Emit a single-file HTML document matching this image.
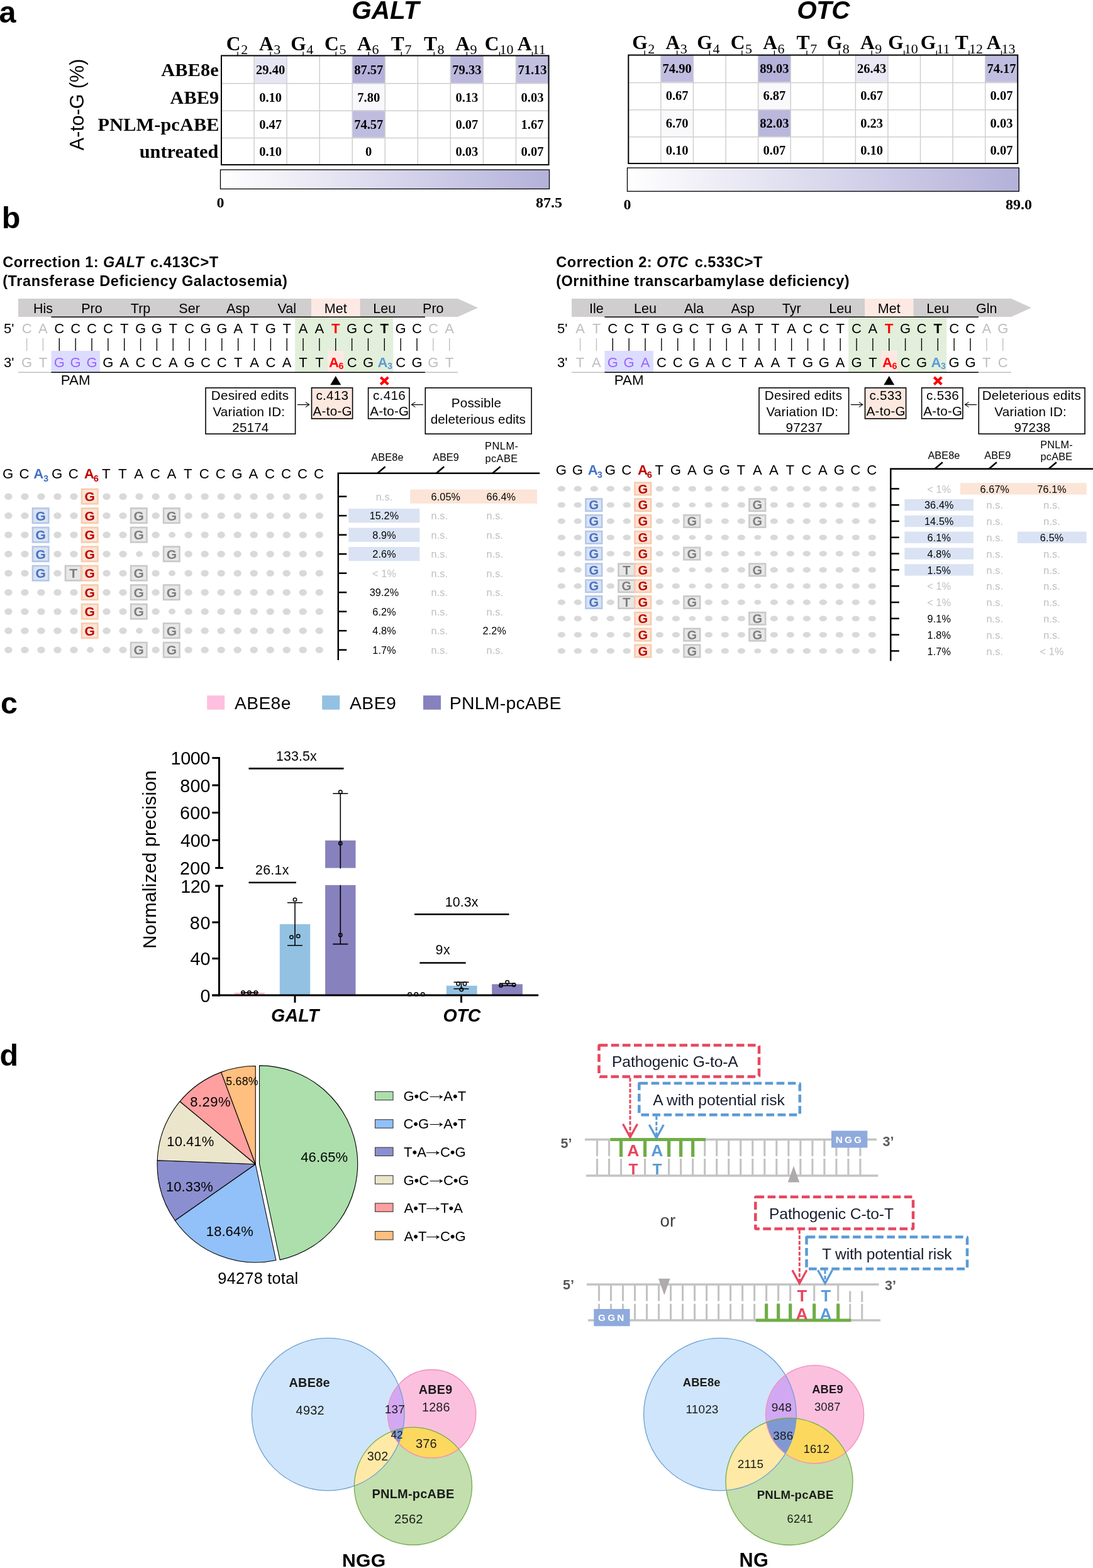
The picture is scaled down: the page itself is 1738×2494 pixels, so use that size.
<!DOCTYPE html>
<html lang="en"><head><meta charset="utf-8"><title>Figure</title>
<style>
html,body{margin:0;padding:0;background:#fff;}
body{width:1738px;height:2494px;overflow:hidden;font-family:"Liberation Sans",Arial,sans-serif;}
svg{display:block;}
</style></head><body>
<svg width="1738" height="2494" viewBox="0 0 1738 2494">
<rect width="1738" height="2494" fill="#ffffff"/>
<text x="-1.61" y="36.20" font-family="Liberation Sans, Arial, sans-serif" font-size="48.5" font-weight="bold" fill="#000">a</text>
<text transform="translate(133.30,239.20) rotate(-90)" font-family="Liberation Sans, Arial, sans-serif" font-size="30.5" letter-spacing="-0.018" fill="#000">A-to-G (%)</text>
<text x="256.35" y="120.60" font-family="Liberation Serif, Times New Roman, serif" font-size="30.2" font-weight="bold" letter-spacing="0.201" fill="#000">ABE8e</text>
<text x="270.45" y="164.80" font-family="Liberation Serif, Times New Roman, serif" font-size="30.2" font-weight="bold" letter-spacing="0.149" fill="#000">ABE9</text>
<text x="155.55" y="207.90" font-family="Liberation Serif, Times New Roman, serif" font-size="30.2" font-weight="bold" letter-spacing="0.183" fill="#000">PNLM-pcABE</text>
<text x="221.75" y="251.40" font-family="Liberation Serif, Times New Roman, serif" font-size="30.2" font-weight="bold" letter-spacing="0.047" fill="#000">untreated</text>
<rect x="404.05" y="88.50" width="52.05" height="43.40" fill="#e6e5f3"/>
<rect x="560.20" y="88.50" width="52.05" height="43.40" fill="#b4b1da"/>
<rect x="716.35" y="88.50" width="52.05" height="43.40" fill="#bbb8dd"/>
<rect x="820.45" y="88.50" width="52.05" height="43.40" fill="#c2c0e1"/>
<rect x="560.20" y="131.90" width="52.05" height="43.40" fill="#f8f8fc"/>
<rect x="560.20" y="175.30" width="52.05" height="43.40" fill="#bfbddf"/>
<rect x="820.45" y="175.30" width="52.05" height="43.40" fill="#fefefe"/>
<line x1="404.05" y1="88.50" x2="404.05" y2="262.10" stroke="#cfcfcf" stroke-width="1.5"/>
<line x1="456.10" y1="88.50" x2="456.10" y2="262.10" stroke="#cfcfcf" stroke-width="1.5"/>
<line x1="508.15" y1="88.50" x2="508.15" y2="262.10" stroke="#cfcfcf" stroke-width="1.5"/>
<line x1="560.20" y1="88.50" x2="560.20" y2="262.10" stroke="#cfcfcf" stroke-width="1.5"/>
<line x1="612.25" y1="88.50" x2="612.25" y2="262.10" stroke="#cfcfcf" stroke-width="1.5"/>
<line x1="664.30" y1="88.50" x2="664.30" y2="262.10" stroke="#cfcfcf" stroke-width="1.5"/>
<line x1="716.35" y1="88.50" x2="716.35" y2="262.10" stroke="#cfcfcf" stroke-width="1.5"/>
<line x1="768.40" y1="88.50" x2="768.40" y2="262.10" stroke="#cfcfcf" stroke-width="1.5"/>
<line x1="820.45" y1="88.50" x2="820.45" y2="262.10" stroke="#cfcfcf" stroke-width="1.5"/>
<line x1="352.00" y1="132.80" x2="872.50" y2="132.80" stroke="#cfcfcf" stroke-width="1.5"/>
<line x1="352.00" y1="176.20" x2="872.50" y2="176.20" stroke="#cfcfcf" stroke-width="1.5"/>
<line x1="352.00" y1="219.60" x2="872.50" y2="219.60" stroke="#cfcfcf" stroke-width="1.5"/>
<rect x="352.00" y="88.50" width="520.50" height="173.60" fill="none" stroke="#000" stroke-width="2"/>
<text x="430.07" y="118.20" font-family="Liberation Serif, Times New Roman, serif" font-size="20.5" text-anchor="middle" font-weight="bold" fill="#000">29.40</text>
<text x="586.23" y="118.20" font-family="Liberation Serif, Times New Roman, serif" font-size="20.5" text-anchor="middle" font-weight="bold" fill="#000">87.57</text>
<text x="742.38" y="118.20" font-family="Liberation Serif, Times New Roman, serif" font-size="20.5" text-anchor="middle" font-weight="bold" fill="#000">79.33</text>
<text x="846.47" y="118.20" font-family="Liberation Serif, Times New Roman, serif" font-size="20.5" text-anchor="middle" font-weight="bold" fill="#000">71.13</text>
<text x="430.07" y="161.60" font-family="Liberation Serif, Times New Roman, serif" font-size="20.5" text-anchor="middle" font-weight="bold" fill="#000">0.10</text>
<text x="586.23" y="161.60" font-family="Liberation Serif, Times New Roman, serif" font-size="20.5" text-anchor="middle" font-weight="bold" fill="#000">7.80</text>
<text x="742.38" y="161.60" font-family="Liberation Serif, Times New Roman, serif" font-size="20.5" text-anchor="middle" font-weight="bold" fill="#000">0.13</text>
<text x="846.47" y="161.60" font-family="Liberation Serif, Times New Roman, serif" font-size="20.5" text-anchor="middle" font-weight="bold" fill="#000">0.03</text>
<text x="430.07" y="205.00" font-family="Liberation Serif, Times New Roman, serif" font-size="20.5" text-anchor="middle" font-weight="bold" fill="#000">0.47</text>
<text x="586.23" y="205.00" font-family="Liberation Serif, Times New Roman, serif" font-size="20.5" text-anchor="middle" font-weight="bold" fill="#000">74.57</text>
<text x="742.38" y="205.00" font-family="Liberation Serif, Times New Roman, serif" font-size="20.5" text-anchor="middle" font-weight="bold" fill="#000">0.07</text>
<text x="846.47" y="205.00" font-family="Liberation Serif, Times New Roman, serif" font-size="20.5" text-anchor="middle" font-weight="bold" fill="#000">1.67</text>
<text x="430.07" y="248.40" font-family="Liberation Serif, Times New Roman, serif" font-size="20.5" text-anchor="middle" font-weight="bold" fill="#000">0.10</text>
<text x="586.23" y="248.40" font-family="Liberation Serif, Times New Roman, serif" font-size="20.5" text-anchor="middle" font-weight="bold" fill="#000">0</text>
<text x="742.38" y="248.40" font-family="Liberation Serif, Times New Roman, serif" font-size="20.5" text-anchor="middle" font-weight="bold" fill="#000">0.03</text>
<text x="846.47" y="248.40" font-family="Liberation Serif, Times New Roman, serif" font-size="20.5" text-anchor="middle" font-weight="bold" fill="#000">0.07</text>
<line x1="378.02" y1="88.50" x2="378.02" y2="82.50" stroke="#000" stroke-width="1.3"/>
<text x="382.62" y="79.50" font-family="Liberation Serif, Times New Roman, serif" font-size="31.5" text-anchor="end" font-weight="bold" fill="#000">C</text>
<text x="383.22" y="86.30" font-family="Liberation Serif, Times New Roman, serif" font-size="22" fill="#000">2</text>
<line x1="430.07" y1="88.50" x2="430.07" y2="82.50" stroke="#000" stroke-width="1.3"/>
<text x="434.68" y="79.50" font-family="Liberation Serif, Times New Roman, serif" font-size="31.5" text-anchor="end" font-weight="bold" fill="#000">A</text>
<text x="435.27" y="86.30" font-family="Liberation Serif, Times New Roman, serif" font-size="22" fill="#000">3</text>
<line x1="482.12" y1="88.50" x2="482.12" y2="82.50" stroke="#000" stroke-width="1.3"/>
<text x="486.73" y="79.50" font-family="Liberation Serif, Times New Roman, serif" font-size="31.5" text-anchor="end" font-weight="bold" fill="#000">G</text>
<text x="487.32" y="86.30" font-family="Liberation Serif, Times New Roman, serif" font-size="22" fill="#000">4</text>
<line x1="534.17" y1="88.50" x2="534.17" y2="82.50" stroke="#000" stroke-width="1.3"/>
<text x="538.77" y="79.50" font-family="Liberation Serif, Times New Roman, serif" font-size="31.5" text-anchor="end" font-weight="bold" fill="#000">C</text>
<text x="539.38" y="86.30" font-family="Liberation Serif, Times New Roman, serif" font-size="22" fill="#000">5</text>
<line x1="586.23" y1="88.50" x2="586.23" y2="82.50" stroke="#000" stroke-width="1.3"/>
<text x="590.83" y="79.50" font-family="Liberation Serif, Times New Roman, serif" font-size="31.5" text-anchor="end" font-weight="bold" fill="#000">A</text>
<text x="591.43" y="86.30" font-family="Liberation Serif, Times New Roman, serif" font-size="22" fill="#000">6</text>
<line x1="638.27" y1="88.50" x2="638.27" y2="82.50" stroke="#000" stroke-width="1.3"/>
<text x="642.88" y="79.50" font-family="Liberation Serif, Times New Roman, serif" font-size="31.5" text-anchor="end" font-weight="bold" fill="#000">T</text>
<text x="643.48" y="86.30" font-family="Liberation Serif, Times New Roman, serif" font-size="22" fill="#000">7</text>
<line x1="690.33" y1="88.50" x2="690.33" y2="82.50" stroke="#000" stroke-width="1.3"/>
<text x="694.93" y="79.50" font-family="Liberation Serif, Times New Roman, serif" font-size="31.5" text-anchor="end" font-weight="bold" fill="#000">T</text>
<text x="695.53" y="86.30" font-family="Liberation Serif, Times New Roman, serif" font-size="22" fill="#000">8</text>
<line x1="742.38" y1="88.50" x2="742.38" y2="82.50" stroke="#000" stroke-width="1.3"/>
<text x="746.98" y="79.50" font-family="Liberation Serif, Times New Roman, serif" font-size="31.5" text-anchor="end" font-weight="bold" fill="#000">A</text>
<text x="747.58" y="86.30" font-family="Liberation Serif, Times New Roman, serif" font-size="22" fill="#000">9</text>
<line x1="794.42" y1="88.50" x2="794.42" y2="82.50" stroke="#000" stroke-width="1.3"/>
<text x="793.42" y="79.50" font-family="Liberation Serif, Times New Roman, serif" font-size="31.5" text-anchor="end" font-weight="bold" fill="#000">C</text>
<text x="794.42" y="86.30" font-family="Liberation Serif, Times New Roman, serif" font-size="22" fill="#000">10</text>
<line x1="846.47" y1="88.50" x2="846.47" y2="82.50" stroke="#000" stroke-width="1.3"/>
<text x="845.47" y="79.50" font-family="Liberation Serif, Times New Roman, serif" font-size="31.5" text-anchor="end" font-weight="bold" fill="#000">A</text>
<text x="846.47" y="86.30" font-family="Liberation Serif, Times New Roman, serif" font-size="22" fill="#000">11</text>
<defs><linearGradient id="gGALT" x1="0" x2="1" y1="0" y2="0"><stop offset="0" stop-color="#ffffff"/><stop offset="1" stop-color="#b4b1da"/></linearGradient></defs>
<rect x="350.5" y="270" width="523.0" height="30.5" fill="url(#gGALT)" stroke="#000" stroke-width="1.3"/>
<text x="350.50" y="330.00" font-family="Liberation Serif, Times New Roman, serif" font-size="24" text-anchor="middle" font-weight="bold" fill="#000">0</text>
<text x="873.00" y="330.00" font-family="Liberation Serif, Times New Roman, serif" font-size="24" text-anchor="middle" font-weight="bold" fill="#000">87.5</text>
<text x="559.18" y="30.00" font-family="Liberation Sans, Arial, sans-serif" font-size="40.5" font-weight="bold" font-style="italic" letter-spacing="0.054" fill="#000">GALT</text>
<rect x="1050.88" y="87.60" width="51.58" height="43.10" fill="#c0bde0"/>
<rect x="1205.62" y="87.60" width="51.58" height="43.10" fill="#b4b1da"/>
<rect x="1360.36" y="87.60" width="51.58" height="43.10" fill="#e9e8f4"/>
<rect x="1566.68" y="87.60" width="51.58" height="43.10" fill="#c0bee0"/>
<rect x="1050.88" y="130.70" width="51.58" height="43.10" fill="#fefeff"/>
<rect x="1205.62" y="130.70" width="51.58" height="43.10" fill="#f9f9fc"/>
<rect x="1360.36" y="130.70" width="51.58" height="43.10" fill="#fefeff"/>
<rect x="1050.88" y="173.80" width="51.58" height="43.10" fill="#f9f9fc"/>
<rect x="1205.62" y="173.80" width="51.58" height="43.10" fill="#bab7dd"/>
<line x1="1050.88" y1="87.60" x2="1050.88" y2="260.00" stroke="#cfcfcf" stroke-width="1.5"/>
<line x1="1102.46" y1="87.60" x2="1102.46" y2="260.00" stroke="#cfcfcf" stroke-width="1.5"/>
<line x1="1154.04" y1="87.60" x2="1154.04" y2="260.00" stroke="#cfcfcf" stroke-width="1.5"/>
<line x1="1205.62" y1="87.60" x2="1205.62" y2="260.00" stroke="#cfcfcf" stroke-width="1.5"/>
<line x1="1257.20" y1="87.60" x2="1257.20" y2="260.00" stroke="#cfcfcf" stroke-width="1.5"/>
<line x1="1308.78" y1="87.60" x2="1308.78" y2="260.00" stroke="#cfcfcf" stroke-width="1.5"/>
<line x1="1360.36" y1="87.60" x2="1360.36" y2="260.00" stroke="#cfcfcf" stroke-width="1.5"/>
<line x1="1411.94" y1="87.60" x2="1411.94" y2="260.00" stroke="#cfcfcf" stroke-width="1.5"/>
<line x1="1463.52" y1="87.60" x2="1463.52" y2="260.00" stroke="#cfcfcf" stroke-width="1.5"/>
<line x1="1515.10" y1="87.60" x2="1515.10" y2="260.00" stroke="#cfcfcf" stroke-width="1.5"/>
<line x1="1566.68" y1="87.60" x2="1566.68" y2="260.00" stroke="#cfcfcf" stroke-width="1.5"/>
<line x1="999.30" y1="131.60" x2="1618.26" y2="131.60" stroke="#cfcfcf" stroke-width="1.5"/>
<line x1="999.30" y1="174.70" x2="1618.26" y2="174.70" stroke="#cfcfcf" stroke-width="1.5"/>
<line x1="999.30" y1="217.80" x2="1618.26" y2="217.80" stroke="#cfcfcf" stroke-width="1.5"/>
<rect x="999.30" y="87.60" width="618.96" height="172.40" fill="none" stroke="#000" stroke-width="2"/>
<text x="1076.67" y="116.35" font-family="Liberation Serif, Times New Roman, serif" font-size="20.5" text-anchor="middle" font-weight="bold" fill="#000">74.90</text>
<text x="1231.41" y="116.35" font-family="Liberation Serif, Times New Roman, serif" font-size="20.5" text-anchor="middle" font-weight="bold" fill="#000">89.03</text>
<text x="1386.15" y="116.35" font-family="Liberation Serif, Times New Roman, serif" font-size="20.5" text-anchor="middle" font-weight="bold" fill="#000">26.43</text>
<text x="1592.47" y="116.35" font-family="Liberation Serif, Times New Roman, serif" font-size="20.5" text-anchor="middle" font-weight="bold" fill="#000">74.17</text>
<text x="1076.67" y="159.45" font-family="Liberation Serif, Times New Roman, serif" font-size="20.5" text-anchor="middle" font-weight="bold" fill="#000">0.67</text>
<text x="1231.41" y="159.45" font-family="Liberation Serif, Times New Roman, serif" font-size="20.5" text-anchor="middle" font-weight="bold" fill="#000">6.87</text>
<text x="1386.15" y="159.45" font-family="Liberation Serif, Times New Roman, serif" font-size="20.5" text-anchor="middle" font-weight="bold" fill="#000">0.67</text>
<text x="1592.47" y="159.45" font-family="Liberation Serif, Times New Roman, serif" font-size="20.5" text-anchor="middle" font-weight="bold" fill="#000">0.07</text>
<text x="1076.67" y="202.55" font-family="Liberation Serif, Times New Roman, serif" font-size="20.5" text-anchor="middle" font-weight="bold" fill="#000">6.70</text>
<text x="1231.41" y="202.55" font-family="Liberation Serif, Times New Roman, serif" font-size="20.5" text-anchor="middle" font-weight="bold" fill="#000">82.03</text>
<text x="1386.15" y="202.55" font-family="Liberation Serif, Times New Roman, serif" font-size="20.5" text-anchor="middle" font-weight="bold" fill="#000">0.23</text>
<text x="1592.47" y="202.55" font-family="Liberation Serif, Times New Roman, serif" font-size="20.5" text-anchor="middle" font-weight="bold" fill="#000">0.03</text>
<text x="1076.67" y="245.65" font-family="Liberation Serif, Times New Roman, serif" font-size="20.5" text-anchor="middle" font-weight="bold" fill="#000">0.10</text>
<text x="1231.41" y="245.65" font-family="Liberation Serif, Times New Roman, serif" font-size="20.5" text-anchor="middle" font-weight="bold" fill="#000">0.07</text>
<text x="1386.15" y="245.65" font-family="Liberation Serif, Times New Roman, serif" font-size="20.5" text-anchor="middle" font-weight="bold" fill="#000">0.10</text>
<text x="1592.47" y="245.65" font-family="Liberation Serif, Times New Roman, serif" font-size="20.5" text-anchor="middle" font-weight="bold" fill="#000">0.07</text>
<line x1="1025.09" y1="87.60" x2="1025.09" y2="80.50" stroke="#000" stroke-width="1.3"/>
<text x="1029.69" y="77.50" font-family="Liberation Serif, Times New Roman, serif" font-size="31.5" text-anchor="end" font-weight="bold" fill="#000">G</text>
<text x="1030.29" y="85.00" font-family="Liberation Serif, Times New Roman, serif" font-size="22" fill="#000">2</text>
<line x1="1076.67" y1="87.60" x2="1076.67" y2="80.50" stroke="#000" stroke-width="1.3"/>
<text x="1081.27" y="77.50" font-family="Liberation Serif, Times New Roman, serif" font-size="31.5" text-anchor="end" font-weight="bold" fill="#000">A</text>
<text x="1081.87" y="85.00" font-family="Liberation Serif, Times New Roman, serif" font-size="22" fill="#000">3</text>
<line x1="1128.25" y1="87.60" x2="1128.25" y2="80.50" stroke="#000" stroke-width="1.3"/>
<text x="1132.85" y="77.50" font-family="Liberation Serif, Times New Roman, serif" font-size="31.5" text-anchor="end" font-weight="bold" fill="#000">G</text>
<text x="1133.45" y="85.00" font-family="Liberation Serif, Times New Roman, serif" font-size="22" fill="#000">4</text>
<line x1="1179.83" y1="87.60" x2="1179.83" y2="80.50" stroke="#000" stroke-width="1.3"/>
<text x="1184.43" y="77.50" font-family="Liberation Serif, Times New Roman, serif" font-size="31.5" text-anchor="end" font-weight="bold" fill="#000">C</text>
<text x="1185.03" y="85.00" font-family="Liberation Serif, Times New Roman, serif" font-size="22" fill="#000">5</text>
<line x1="1231.41" y1="87.60" x2="1231.41" y2="80.50" stroke="#000" stroke-width="1.3"/>
<text x="1236.01" y="77.50" font-family="Liberation Serif, Times New Roman, serif" font-size="31.5" text-anchor="end" font-weight="bold" fill="#000">A</text>
<text x="1236.61" y="85.00" font-family="Liberation Serif, Times New Roman, serif" font-size="22" fill="#000">6</text>
<line x1="1282.99" y1="87.60" x2="1282.99" y2="80.50" stroke="#000" stroke-width="1.3"/>
<text x="1287.59" y="77.50" font-family="Liberation Serif, Times New Roman, serif" font-size="31.5" text-anchor="end" font-weight="bold" fill="#000">T</text>
<text x="1288.19" y="85.00" font-family="Liberation Serif, Times New Roman, serif" font-size="22" fill="#000">7</text>
<line x1="1334.57" y1="87.60" x2="1334.57" y2="80.50" stroke="#000" stroke-width="1.3"/>
<text x="1339.17" y="77.50" font-family="Liberation Serif, Times New Roman, serif" font-size="31.5" text-anchor="end" font-weight="bold" fill="#000">G</text>
<text x="1339.77" y="85.00" font-family="Liberation Serif, Times New Roman, serif" font-size="22" fill="#000">8</text>
<line x1="1386.15" y1="87.60" x2="1386.15" y2="80.50" stroke="#000" stroke-width="1.3"/>
<text x="1390.75" y="77.50" font-family="Liberation Serif, Times New Roman, serif" font-size="31.5" text-anchor="end" font-weight="bold" fill="#000">A</text>
<text x="1391.35" y="85.00" font-family="Liberation Serif, Times New Roman, serif" font-size="22" fill="#000">9</text>
<line x1="1437.73" y1="87.60" x2="1437.73" y2="80.50" stroke="#000" stroke-width="1.3"/>
<text x="1436.73" y="77.50" font-family="Liberation Serif, Times New Roman, serif" font-size="31.5" text-anchor="end" font-weight="bold" fill="#000">G</text>
<text x="1437.73" y="85.00" font-family="Liberation Serif, Times New Roman, serif" font-size="22" fill="#000">10</text>
<line x1="1489.31" y1="87.60" x2="1489.31" y2="80.50" stroke="#000" stroke-width="1.3"/>
<text x="1488.31" y="77.50" font-family="Liberation Serif, Times New Roman, serif" font-size="31.5" text-anchor="end" font-weight="bold" fill="#000">G</text>
<text x="1489.31" y="85.00" font-family="Liberation Serif, Times New Roman, serif" font-size="22" fill="#000">11</text>
<line x1="1540.89" y1="87.60" x2="1540.89" y2="80.50" stroke="#000" stroke-width="1.3"/>
<text x="1539.89" y="77.50" font-family="Liberation Serif, Times New Roman, serif" font-size="31.5" text-anchor="end" font-weight="bold" fill="#000">T</text>
<text x="1540.89" y="85.00" font-family="Liberation Serif, Times New Roman, serif" font-size="22" fill="#000">12</text>
<line x1="1592.47" y1="87.60" x2="1592.47" y2="80.50" stroke="#000" stroke-width="1.3"/>
<text x="1591.47" y="77.50" font-family="Liberation Serif, Times New Roman, serif" font-size="31.5" text-anchor="end" font-weight="bold" fill="#000">A</text>
<text x="1592.47" y="85.00" font-family="Liberation Serif, Times New Roman, serif" font-size="22" fill="#000">13</text>
<defs><linearGradient id="gOTC" x1="0" x2="1" y1="0" y2="0"><stop offset="0" stop-color="#ffffff"/><stop offset="1" stop-color="#b4b1da"/></linearGradient></defs>
<rect x="997.5" y="267" width="622.8" height="37.30000000000001" fill="url(#gOTC)" stroke="#000" stroke-width="1.3"/>
<text x="997.50" y="333.00" font-family="Liberation Serif, Times New Roman, serif" font-size="24" text-anchor="middle" font-weight="bold" fill="#000">0</text>
<text x="1620.00" y="333.00" font-family="Liberation Serif, Times New Roman, serif" font-size="24" text-anchor="middle" font-weight="bold" fill="#000">89.0</text>
<text x="1267.18" y="29.50" font-family="Liberation Sans, Arial, sans-serif" font-size="40.5" font-weight="bold" font-style="italic" letter-spacing="-0.620" fill="#000">OTC</text>
<text x="2.75" y="363.10" font-family="Liberation Sans, Arial, sans-serif" font-size="48.5" font-weight="bold" fill="#000">b</text>
<text x="4.31" y="425.00" font-family="Liberation Sans, Arial, sans-serif" font-size="23.5" font-weight="bold" letter-spacing="0.511" fill="#000">Correction 1:</text>
<text x="163.94" y="425.00" font-family="Liberation Sans, Arial, sans-serif" font-size="23.5" font-weight="bold" font-style="italic" letter-spacing="0.779" fill="#000">GALT</text>
<text x="238.93" y="425.00" font-family="Liberation Sans, Arial, sans-serif" font-size="23.5" font-weight="bold" letter-spacing="0.617" fill="#000">c.413C&gt;T</text>
<text x="4.19" y="455.30" font-family="Liberation Sans, Arial, sans-serif" font-size="23.5" font-weight="bold" letter-spacing="0.599" fill="#000">(Transferase Deficiency Galactosemia)</text>
<polygon points="29,475 728,475 760,489.5 728,504 29,504" fill="#d0cece"/>
<rect x="494.98" y="475.00" width="77.55" height="29.50" fill="#fde9e3"/>
<text x="68.45" y="497.70" font-family="Liberation Sans, Arial, sans-serif" font-size="21.5" text-anchor="middle" fill="#000">His</text>
<text x="146.00" y="497.70" font-family="Liberation Sans, Arial, sans-serif" font-size="21.5" text-anchor="middle" fill="#000">Pro</text>
<text x="223.55" y="497.70" font-family="Liberation Sans, Arial, sans-serif" font-size="21.5" text-anchor="middle" fill="#000">Trp</text>
<text x="301.10" y="497.70" font-family="Liberation Sans, Arial, sans-serif" font-size="21.5" text-anchor="middle" fill="#000">Ser</text>
<text x="378.65" y="497.70" font-family="Liberation Sans, Arial, sans-serif" font-size="21.5" text-anchor="middle" fill="#000">Asp</text>
<text x="456.20" y="497.70" font-family="Liberation Sans, Arial, sans-serif" font-size="21.5" text-anchor="middle" fill="#000">Val</text>
<text x="533.75" y="497.70" font-family="Liberation Sans, Arial, sans-serif" font-size="21.5" text-anchor="middle" fill="#000">Met</text>
<text x="611.30" y="497.70" font-family="Liberation Sans, Arial, sans-serif" font-size="21.5" text-anchor="middle" fill="#000">Leu</text>
<text x="688.85" y="497.70" font-family="Liberation Sans, Arial, sans-serif" font-size="21.5" text-anchor="middle" fill="#000">Pro</text>
<rect x="469.13" y="504.50" width="156.10" height="88.00" fill="#e2efda"/>
<rect x="520.83" y="558.00" width="25.85" height="34.50" fill="#fde9e3"/>
<rect x="81.38" y="558.00" width="77.55" height="34.50" fill="#dcdcff"/>
<line x1="81.38" y1="504.30" x2="675.93" y2="504.30" stroke="#000" stroke-width="1.6"/>
<line x1="29.00" y1="592.30" x2="81.38" y2="592.30" stroke="#bfbfbf" stroke-width="1.6"/>
<line x1="675.93" y1="592.30" x2="728.00" y2="592.30" stroke="#bfbfbf" stroke-width="1.6"/>
<line x1="81.38" y1="592.30" x2="675.93" y2="592.30" stroke="#000" stroke-width="1.6"/>
<text x="6.00" y="530.00" font-family="Liberation Sans, Arial, sans-serif" font-size="22" fill="#000">5'</text>
<text x="6.00" y="584.00" font-family="Liberation Sans, Arial, sans-serif" font-size="22" fill="#000">3'</text>
<text x="42.60" y="530.00" font-family="Liberation Sans, Arial, sans-serif" font-size="22" text-anchor="middle" fill="#bfbfbf">C</text>
<line x1="42.60" y1="538.00" x2="42.60" y2="558.00" stroke="#bfbfbf" stroke-width="1.4"/>
<text x="68.45" y="530.00" font-family="Liberation Sans, Arial, sans-serif" font-size="22" text-anchor="middle" fill="#bfbfbf">A</text>
<line x1="68.45" y1="538.00" x2="68.45" y2="558.00" stroke="#bfbfbf" stroke-width="1.4"/>
<text x="94.30" y="530.00" font-family="Liberation Sans, Arial, sans-serif" font-size="22" text-anchor="middle" fill="#000">C</text>
<line x1="94.30" y1="538.00" x2="94.30" y2="558.00" stroke="#000" stroke-width="1.4"/>
<text x="120.15" y="530.00" font-family="Liberation Sans, Arial, sans-serif" font-size="22" text-anchor="middle" fill="#000">C</text>
<line x1="120.15" y1="538.00" x2="120.15" y2="558.00" stroke="#000" stroke-width="1.4"/>
<text x="146.00" y="530.00" font-family="Liberation Sans, Arial, sans-serif" font-size="22" text-anchor="middle" fill="#000">C</text>
<line x1="146.00" y1="538.00" x2="146.00" y2="558.00" stroke="#000" stroke-width="1.4"/>
<text x="171.85" y="530.00" font-family="Liberation Sans, Arial, sans-serif" font-size="22" text-anchor="middle" fill="#000">C</text>
<line x1="171.85" y1="538.00" x2="171.85" y2="558.00" stroke="#000" stroke-width="1.4"/>
<text x="197.70" y="530.00" font-family="Liberation Sans, Arial, sans-serif" font-size="22" text-anchor="middle" fill="#000">T</text>
<line x1="197.70" y1="538.00" x2="197.70" y2="558.00" stroke="#000" stroke-width="1.4"/>
<text x="223.55" y="530.00" font-family="Liberation Sans, Arial, sans-serif" font-size="22" text-anchor="middle" fill="#000">G</text>
<line x1="223.55" y1="538.00" x2="223.55" y2="558.00" stroke="#000" stroke-width="1.4"/>
<text x="249.40" y="530.00" font-family="Liberation Sans, Arial, sans-serif" font-size="22" text-anchor="middle" fill="#000">G</text>
<line x1="249.40" y1="538.00" x2="249.40" y2="558.00" stroke="#000" stroke-width="1.4"/>
<text x="275.25" y="530.00" font-family="Liberation Sans, Arial, sans-serif" font-size="22" text-anchor="middle" fill="#000">T</text>
<line x1="275.25" y1="538.00" x2="275.25" y2="558.00" stroke="#000" stroke-width="1.4"/>
<text x="301.10" y="530.00" font-family="Liberation Sans, Arial, sans-serif" font-size="22" text-anchor="middle" fill="#000">C</text>
<line x1="301.10" y1="538.00" x2="301.10" y2="558.00" stroke="#000" stroke-width="1.4"/>
<text x="326.95" y="530.00" font-family="Liberation Sans, Arial, sans-serif" font-size="22" text-anchor="middle" fill="#000">G</text>
<line x1="326.95" y1="538.00" x2="326.95" y2="558.00" stroke="#000" stroke-width="1.4"/>
<text x="352.80" y="530.00" font-family="Liberation Sans, Arial, sans-serif" font-size="22" text-anchor="middle" fill="#000">G</text>
<line x1="352.80" y1="538.00" x2="352.80" y2="558.00" stroke="#000" stroke-width="1.4"/>
<text x="378.65" y="530.00" font-family="Liberation Sans, Arial, sans-serif" font-size="22" text-anchor="middle" fill="#000">A</text>
<line x1="378.65" y1="538.00" x2="378.65" y2="558.00" stroke="#000" stroke-width="1.4"/>
<text x="404.50" y="530.00" font-family="Liberation Sans, Arial, sans-serif" font-size="22" text-anchor="middle" fill="#000">T</text>
<line x1="404.50" y1="538.00" x2="404.50" y2="558.00" stroke="#000" stroke-width="1.4"/>
<text x="430.35" y="530.00" font-family="Liberation Sans, Arial, sans-serif" font-size="22" text-anchor="middle" fill="#000">G</text>
<line x1="430.35" y1="538.00" x2="430.35" y2="558.00" stroke="#000" stroke-width="1.4"/>
<text x="456.20" y="530.00" font-family="Liberation Sans, Arial, sans-serif" font-size="22" text-anchor="middle" fill="#000">T</text>
<line x1="456.20" y1="538.00" x2="456.20" y2="558.00" stroke="#000" stroke-width="1.4"/>
<text x="482.05" y="530.00" font-family="Liberation Sans, Arial, sans-serif" font-size="22" text-anchor="middle" fill="#000">A</text>
<line x1="482.05" y1="538.00" x2="482.05" y2="558.00" stroke="#000" stroke-width="1.4"/>
<text x="507.90" y="530.00" font-family="Liberation Sans, Arial, sans-serif" font-size="22" text-anchor="middle" fill="#000">A</text>
<line x1="507.90" y1="538.00" x2="507.90" y2="558.00" stroke="#000" stroke-width="1.4"/>
<text x="533.75" y="530.00" font-family="Liberation Sans, Arial, sans-serif" font-size="22" text-anchor="middle" font-weight="bold" fill="#ff0000">T</text>
<line x1="533.75" y1="538.00" x2="533.75" y2="558.00" stroke="#000" stroke-width="1.4"/>
<text x="559.60" y="530.00" font-family="Liberation Sans, Arial, sans-serif" font-size="22" text-anchor="middle" fill="#000">G</text>
<line x1="559.60" y1="538.00" x2="559.60" y2="558.00" stroke="#000" stroke-width="1.4"/>
<text x="585.45" y="530.00" font-family="Liberation Sans, Arial, sans-serif" font-size="22" text-anchor="middle" fill="#000">C</text>
<line x1="585.45" y1="538.00" x2="585.45" y2="558.00" stroke="#000" stroke-width="1.4"/>
<text x="611.30" y="530.00" font-family="Liberation Sans, Arial, sans-serif" font-size="22" text-anchor="middle" font-weight="bold" fill="#000">T</text>
<line x1="611.30" y1="538.00" x2="611.30" y2="558.00" stroke="#000" stroke-width="1.4"/>
<text x="637.15" y="530.00" font-family="Liberation Sans, Arial, sans-serif" font-size="22" text-anchor="middle" fill="#000">G</text>
<line x1="637.15" y1="538.00" x2="637.15" y2="558.00" stroke="#000" stroke-width="1.4"/>
<text x="663.00" y="530.00" font-family="Liberation Sans, Arial, sans-serif" font-size="22" text-anchor="middle" fill="#000">C</text>
<line x1="663.00" y1="538.00" x2="663.00" y2="558.00" stroke="#000" stroke-width="1.4"/>
<text x="688.85" y="530.00" font-family="Liberation Sans, Arial, sans-serif" font-size="22" text-anchor="middle" fill="#bfbfbf">C</text>
<line x1="688.85" y1="538.00" x2="688.85" y2="558.00" stroke="#bfbfbf" stroke-width="1.4"/>
<text x="714.70" y="530.00" font-family="Liberation Sans, Arial, sans-serif" font-size="22" text-anchor="middle" fill="#bfbfbf">A</text>
<line x1="714.70" y1="538.00" x2="714.70" y2="558.00" stroke="#bfbfbf" stroke-width="1.4"/>
<text x="42.60" y="584.00" font-family="Liberation Sans, Arial, sans-serif" font-size="22" text-anchor="middle" fill="#bfbfbf">G</text>
<text x="68.45" y="584.00" font-family="Liberation Sans, Arial, sans-serif" font-size="22" text-anchor="middle" fill="#bfbfbf">T</text>
<text x="94.30" y="584.00" font-family="Liberation Sans, Arial, sans-serif" font-size="22" text-anchor="middle" fill="#9966ff">G</text>
<text x="120.15" y="584.00" font-family="Liberation Sans, Arial, sans-serif" font-size="22" text-anchor="middle" fill="#9966ff">G</text>
<text x="146.00" y="584.00" font-family="Liberation Sans, Arial, sans-serif" font-size="22" text-anchor="middle" fill="#9966ff">G</text>
<text x="171.85" y="584.00" font-family="Liberation Sans, Arial, sans-serif" font-size="22" text-anchor="middle" fill="#000">G</text>
<text x="197.70" y="584.00" font-family="Liberation Sans, Arial, sans-serif" font-size="22" text-anchor="middle" fill="#000">A</text>
<text x="223.55" y="584.00" font-family="Liberation Sans, Arial, sans-serif" font-size="22" text-anchor="middle" fill="#000">C</text>
<text x="249.40" y="584.00" font-family="Liberation Sans, Arial, sans-serif" font-size="22" text-anchor="middle" fill="#000">C</text>
<text x="275.25" y="584.00" font-family="Liberation Sans, Arial, sans-serif" font-size="22" text-anchor="middle" fill="#000">A</text>
<text x="301.10" y="584.00" font-family="Liberation Sans, Arial, sans-serif" font-size="22" text-anchor="middle" fill="#000">G</text>
<text x="326.95" y="584.00" font-family="Liberation Sans, Arial, sans-serif" font-size="22" text-anchor="middle" fill="#000">C</text>
<text x="352.80" y="584.00" font-family="Liberation Sans, Arial, sans-serif" font-size="22" text-anchor="middle" fill="#000">C</text>
<text x="378.65" y="584.00" font-family="Liberation Sans, Arial, sans-serif" font-size="22" text-anchor="middle" fill="#000">T</text>
<text x="404.50" y="584.00" font-family="Liberation Sans, Arial, sans-serif" font-size="22" text-anchor="middle" fill="#000">A</text>
<text x="430.35" y="584.00" font-family="Liberation Sans, Arial, sans-serif" font-size="22" text-anchor="middle" fill="#000">C</text>
<text x="456.20" y="584.00" font-family="Liberation Sans, Arial, sans-serif" font-size="22" text-anchor="middle" fill="#000">A</text>
<text x="482.05" y="584.00" font-family="Liberation Sans, Arial, sans-serif" font-size="22" text-anchor="middle" fill="#000">T</text>
<text x="507.90" y="584.00" font-family="Liberation Sans, Arial, sans-serif" font-size="22" text-anchor="middle" fill="#000">T</text>
<text x="530.95" y="584" text-anchor="middle" font-family="Liberation Sans, Arial, sans-serif" font-size="22.2" font-weight="bold" fill="#ff0000">A</text>
<text x="542.45" y="587.2" text-anchor="middle" font-family="Liberation Sans, Arial, sans-serif" font-size="14.3" font-weight="bold" fill="#ff0000">6</text>
<text x="559.60" y="584.00" font-family="Liberation Sans, Arial, sans-serif" font-size="22" text-anchor="middle" fill="#000">C</text>
<text x="585.45" y="584.00" font-family="Liberation Sans, Arial, sans-serif" font-size="22" text-anchor="middle" fill="#000">G</text>
<text x="608.50" y="584" text-anchor="middle" font-family="Liberation Sans, Arial, sans-serif" font-size="22.2" font-weight="bold" fill="#5b9bd5">A</text>
<text x="620.00" y="587.2" text-anchor="middle" font-family="Liberation Sans, Arial, sans-serif" font-size="14.3" font-weight="bold" fill="#5b9bd5">3</text>
<text x="637.15" y="584.00" font-family="Liberation Sans, Arial, sans-serif" font-size="22" text-anchor="middle" fill="#000">C</text>
<text x="663.00" y="584.00" font-family="Liberation Sans, Arial, sans-serif" font-size="22" text-anchor="middle" fill="#000">G</text>
<text x="688.85" y="584.00" font-family="Liberation Sans, Arial, sans-serif" font-size="22" text-anchor="middle" fill="#bfbfbf">G</text>
<text x="714.70" y="584.00" font-family="Liberation Sans, Arial, sans-serif" font-size="22" text-anchor="middle" fill="#bfbfbf">T</text>
<text x="120.15" y="612.40" font-family="Liberation Sans, Arial, sans-serif" font-size="22.3" text-anchor="middle" fill="#000">PAM</text>
<polygon points="525.25,612.3 542.25,612.3 533.75,598" fill="#000"/>
<path d="M605.30,600 L617.30,611.5 M617.30,600 L605.30,611.5" stroke="#ff0000" stroke-width="4.2" fill="none"/>
<text x="884.31" y="425.00" font-family="Liberation Sans, Arial, sans-serif" font-size="23.5" font-weight="bold" letter-spacing="0.511" fill="#000">Correction 2:</text>
<text x="1043.94" y="425.00" font-family="Liberation Sans, Arial, sans-serif" font-size="23.5" font-weight="bold" font-style="italic" letter-spacing="0.310" fill="#000">OTC</text>
<text x="1104.68" y="425.00" font-family="Liberation Sans, Arial, sans-serif" font-size="23.5" font-weight="bold" letter-spacing="0.539" fill="#000">c.533C&gt;T</text>
<text x="884.19" y="455.30" font-family="Liberation Sans, Arial, sans-serif" font-size="23.5" font-weight="bold" letter-spacing="0.486" fill="#000">(Ornithine transcarbamylase deficiency)</text>
<polygon points="909,475 1608,475 1640,489.5 1608,504 909,504" fill="#d0cece"/>
<rect x="1374.98" y="475.00" width="77.55" height="29.50" fill="#fde9e3"/>
<text x="948.45" y="497.70" font-family="Liberation Sans, Arial, sans-serif" font-size="21.5" text-anchor="middle" fill="#000">Ile</text>
<text x="1026.00" y="497.70" font-family="Liberation Sans, Arial, sans-serif" font-size="21.5" text-anchor="middle" fill="#000">Leu</text>
<text x="1103.55" y="497.70" font-family="Liberation Sans, Arial, sans-serif" font-size="21.5" text-anchor="middle" fill="#000">Ala</text>
<text x="1181.10" y="497.70" font-family="Liberation Sans, Arial, sans-serif" font-size="21.5" text-anchor="middle" fill="#000">Asp</text>
<text x="1258.65" y="497.70" font-family="Liberation Sans, Arial, sans-serif" font-size="21.5" text-anchor="middle" fill="#000">Tyr</text>
<text x="1336.20" y="497.70" font-family="Liberation Sans, Arial, sans-serif" font-size="21.5" text-anchor="middle" fill="#000">Leu</text>
<text x="1413.75" y="497.70" font-family="Liberation Sans, Arial, sans-serif" font-size="21.5" text-anchor="middle" fill="#000">Met</text>
<text x="1491.30" y="497.70" font-family="Liberation Sans, Arial, sans-serif" font-size="21.5" text-anchor="middle" fill="#000">Leu</text>
<text x="1568.85" y="497.70" font-family="Liberation Sans, Arial, sans-serif" font-size="21.5" text-anchor="middle" fill="#000">Gln</text>
<rect x="1349.13" y="504.50" width="156.10" height="88.00" fill="#e2efda"/>
<rect x="1400.83" y="558.00" width="25.85" height="34.50" fill="#fde9e3"/>
<rect x="961.38" y="558.00" width="77.55" height="34.50" fill="#dcdcff"/>
<line x1="961.38" y1="504.30" x2="1555.92" y2="504.30" stroke="#000" stroke-width="1.6"/>
<line x1="909.00" y1="592.30" x2="961.38" y2="592.30" stroke="#bfbfbf" stroke-width="1.6"/>
<line x1="1555.92" y1="592.30" x2="1608.00" y2="592.30" stroke="#bfbfbf" stroke-width="1.6"/>
<line x1="961.38" y1="592.30" x2="1555.92" y2="592.30" stroke="#000" stroke-width="1.6"/>
<text x="886.00" y="530.00" font-family="Liberation Sans, Arial, sans-serif" font-size="22" fill="#000">5'</text>
<text x="886.00" y="584.00" font-family="Liberation Sans, Arial, sans-serif" font-size="22" fill="#000">3'</text>
<text x="922.60" y="530.00" font-family="Liberation Sans, Arial, sans-serif" font-size="22" text-anchor="middle" fill="#bfbfbf">A</text>
<line x1="922.60" y1="538.00" x2="922.60" y2="558.00" stroke="#bfbfbf" stroke-width="1.4"/>
<text x="948.45" y="530.00" font-family="Liberation Sans, Arial, sans-serif" font-size="22" text-anchor="middle" fill="#bfbfbf">T</text>
<line x1="948.45" y1="538.00" x2="948.45" y2="558.00" stroke="#bfbfbf" stroke-width="1.4"/>
<text x="974.30" y="530.00" font-family="Liberation Sans, Arial, sans-serif" font-size="22" text-anchor="middle" fill="#000">C</text>
<line x1="974.30" y1="538.00" x2="974.30" y2="558.00" stroke="#000" stroke-width="1.4"/>
<text x="1000.15" y="530.00" font-family="Liberation Sans, Arial, sans-serif" font-size="22" text-anchor="middle" fill="#000">C</text>
<line x1="1000.15" y1="538.00" x2="1000.15" y2="558.00" stroke="#000" stroke-width="1.4"/>
<text x="1026.00" y="530.00" font-family="Liberation Sans, Arial, sans-serif" font-size="22" text-anchor="middle" fill="#000">T</text>
<line x1="1026.00" y1="538.00" x2="1026.00" y2="558.00" stroke="#000" stroke-width="1.4"/>
<text x="1051.85" y="530.00" font-family="Liberation Sans, Arial, sans-serif" font-size="22" text-anchor="middle" fill="#000">G</text>
<line x1="1051.85" y1="538.00" x2="1051.85" y2="558.00" stroke="#000" stroke-width="1.4"/>
<text x="1077.70" y="530.00" font-family="Liberation Sans, Arial, sans-serif" font-size="22" text-anchor="middle" fill="#000">G</text>
<line x1="1077.70" y1="538.00" x2="1077.70" y2="558.00" stroke="#000" stroke-width="1.4"/>
<text x="1103.55" y="530.00" font-family="Liberation Sans, Arial, sans-serif" font-size="22" text-anchor="middle" fill="#000">C</text>
<line x1="1103.55" y1="538.00" x2="1103.55" y2="558.00" stroke="#000" stroke-width="1.4"/>
<text x="1129.40" y="530.00" font-family="Liberation Sans, Arial, sans-serif" font-size="22" text-anchor="middle" fill="#000">T</text>
<line x1="1129.40" y1="538.00" x2="1129.40" y2="558.00" stroke="#000" stroke-width="1.4"/>
<text x="1155.25" y="530.00" font-family="Liberation Sans, Arial, sans-serif" font-size="22" text-anchor="middle" fill="#000">G</text>
<line x1="1155.25" y1="538.00" x2="1155.25" y2="558.00" stroke="#000" stroke-width="1.4"/>
<text x="1181.10" y="530.00" font-family="Liberation Sans, Arial, sans-serif" font-size="22" text-anchor="middle" fill="#000">A</text>
<line x1="1181.10" y1="538.00" x2="1181.10" y2="558.00" stroke="#000" stroke-width="1.4"/>
<text x="1206.95" y="530.00" font-family="Liberation Sans, Arial, sans-serif" font-size="22" text-anchor="middle" fill="#000">T</text>
<line x1="1206.95" y1="538.00" x2="1206.95" y2="558.00" stroke="#000" stroke-width="1.4"/>
<text x="1232.80" y="530.00" font-family="Liberation Sans, Arial, sans-serif" font-size="22" text-anchor="middle" fill="#000">T</text>
<line x1="1232.80" y1="538.00" x2="1232.80" y2="558.00" stroke="#000" stroke-width="1.4"/>
<text x="1258.65" y="530.00" font-family="Liberation Sans, Arial, sans-serif" font-size="22" text-anchor="middle" fill="#000">A</text>
<line x1="1258.65" y1="538.00" x2="1258.65" y2="558.00" stroke="#000" stroke-width="1.4"/>
<text x="1284.50" y="530.00" font-family="Liberation Sans, Arial, sans-serif" font-size="22" text-anchor="middle" fill="#000">C</text>
<line x1="1284.50" y1="538.00" x2="1284.50" y2="558.00" stroke="#000" stroke-width="1.4"/>
<text x="1310.35" y="530.00" font-family="Liberation Sans, Arial, sans-serif" font-size="22" text-anchor="middle" fill="#000">C</text>
<line x1="1310.35" y1="538.00" x2="1310.35" y2="558.00" stroke="#000" stroke-width="1.4"/>
<text x="1336.20" y="530.00" font-family="Liberation Sans, Arial, sans-serif" font-size="22" text-anchor="middle" fill="#000">T</text>
<line x1="1336.20" y1="538.00" x2="1336.20" y2="558.00" stroke="#000" stroke-width="1.4"/>
<text x="1362.05" y="530.00" font-family="Liberation Sans, Arial, sans-serif" font-size="22" text-anchor="middle" fill="#000">C</text>
<line x1="1362.05" y1="538.00" x2="1362.05" y2="558.00" stroke="#000" stroke-width="1.4"/>
<text x="1387.90" y="530.00" font-family="Liberation Sans, Arial, sans-serif" font-size="22" text-anchor="middle" fill="#000">A</text>
<line x1="1387.90" y1="538.00" x2="1387.90" y2="558.00" stroke="#000" stroke-width="1.4"/>
<text x="1413.75" y="530.00" font-family="Liberation Sans, Arial, sans-serif" font-size="22" text-anchor="middle" font-weight="bold" fill="#ff0000">T</text>
<line x1="1413.75" y1="538.00" x2="1413.75" y2="558.00" stroke="#000" stroke-width="1.4"/>
<text x="1439.60" y="530.00" font-family="Liberation Sans, Arial, sans-serif" font-size="22" text-anchor="middle" fill="#000">G</text>
<line x1="1439.60" y1="538.00" x2="1439.60" y2="558.00" stroke="#000" stroke-width="1.4"/>
<text x="1465.45" y="530.00" font-family="Liberation Sans, Arial, sans-serif" font-size="22" text-anchor="middle" fill="#000">C</text>
<line x1="1465.45" y1="538.00" x2="1465.45" y2="558.00" stroke="#000" stroke-width="1.4"/>
<text x="1491.30" y="530.00" font-family="Liberation Sans, Arial, sans-serif" font-size="22" text-anchor="middle" font-weight="bold" fill="#000">T</text>
<line x1="1491.30" y1="538.00" x2="1491.30" y2="558.00" stroke="#000" stroke-width="1.4"/>
<text x="1517.15" y="530.00" font-family="Liberation Sans, Arial, sans-serif" font-size="22" text-anchor="middle" fill="#000">C</text>
<line x1="1517.15" y1="538.00" x2="1517.15" y2="558.00" stroke="#000" stroke-width="1.4"/>
<text x="1543.00" y="530.00" font-family="Liberation Sans, Arial, sans-serif" font-size="22" text-anchor="middle" fill="#000">C</text>
<line x1="1543.00" y1="538.00" x2="1543.00" y2="558.00" stroke="#000" stroke-width="1.4"/>
<text x="1568.85" y="530.00" font-family="Liberation Sans, Arial, sans-serif" font-size="22" text-anchor="middle" fill="#bfbfbf">A</text>
<line x1="1568.85" y1="538.00" x2="1568.85" y2="558.00" stroke="#bfbfbf" stroke-width="1.4"/>
<text x="1594.70" y="530.00" font-family="Liberation Sans, Arial, sans-serif" font-size="22" text-anchor="middle" fill="#bfbfbf">G</text>
<line x1="1594.70" y1="538.00" x2="1594.70" y2="558.00" stroke="#bfbfbf" stroke-width="1.4"/>
<text x="922.60" y="584.00" font-family="Liberation Sans, Arial, sans-serif" font-size="22" text-anchor="middle" fill="#bfbfbf">T</text>
<text x="948.45" y="584.00" font-family="Liberation Sans, Arial, sans-serif" font-size="22" text-anchor="middle" fill="#bfbfbf">A</text>
<text x="974.30" y="584.00" font-family="Liberation Sans, Arial, sans-serif" font-size="22" text-anchor="middle" fill="#9966ff">G</text>
<text x="1000.15" y="584.00" font-family="Liberation Sans, Arial, sans-serif" font-size="22" text-anchor="middle" fill="#9966ff">G</text>
<text x="1026.00" y="584.00" font-family="Liberation Sans, Arial, sans-serif" font-size="22" text-anchor="middle" fill="#9966ff">A</text>
<text x="1051.85" y="584.00" font-family="Liberation Sans, Arial, sans-serif" font-size="22" text-anchor="middle" fill="#000">C</text>
<text x="1077.70" y="584.00" font-family="Liberation Sans, Arial, sans-serif" font-size="22" text-anchor="middle" fill="#000">C</text>
<text x="1103.55" y="584.00" font-family="Liberation Sans, Arial, sans-serif" font-size="22" text-anchor="middle" fill="#000">G</text>
<text x="1129.40" y="584.00" font-family="Liberation Sans, Arial, sans-serif" font-size="22" text-anchor="middle" fill="#000">A</text>
<text x="1155.25" y="584.00" font-family="Liberation Sans, Arial, sans-serif" font-size="22" text-anchor="middle" fill="#000">C</text>
<text x="1181.10" y="584.00" font-family="Liberation Sans, Arial, sans-serif" font-size="22" text-anchor="middle" fill="#000">T</text>
<text x="1206.95" y="584.00" font-family="Liberation Sans, Arial, sans-serif" font-size="22" text-anchor="middle" fill="#000">A</text>
<text x="1232.80" y="584.00" font-family="Liberation Sans, Arial, sans-serif" font-size="22" text-anchor="middle" fill="#000">A</text>
<text x="1258.65" y="584.00" font-family="Liberation Sans, Arial, sans-serif" font-size="22" text-anchor="middle" fill="#000">T</text>
<text x="1284.50" y="584.00" font-family="Liberation Sans, Arial, sans-serif" font-size="22" text-anchor="middle" fill="#000">G</text>
<text x="1310.35" y="584.00" font-family="Liberation Sans, Arial, sans-serif" font-size="22" text-anchor="middle" fill="#000">G</text>
<text x="1336.20" y="584.00" font-family="Liberation Sans, Arial, sans-serif" font-size="22" text-anchor="middle" fill="#000">A</text>
<text x="1362.05" y="584.00" font-family="Liberation Sans, Arial, sans-serif" font-size="22" text-anchor="middle" fill="#000">G</text>
<text x="1387.90" y="584.00" font-family="Liberation Sans, Arial, sans-serif" font-size="22" text-anchor="middle" fill="#000">T</text>
<text x="1410.95" y="584" text-anchor="middle" font-family="Liberation Sans, Arial, sans-serif" font-size="22.2" font-weight="bold" fill="#ff0000">A</text>
<text x="1422.45" y="587.2" text-anchor="middle" font-family="Liberation Sans, Arial, sans-serif" font-size="14.3" font-weight="bold" fill="#ff0000">6</text>
<text x="1439.60" y="584.00" font-family="Liberation Sans, Arial, sans-serif" font-size="22" text-anchor="middle" fill="#000">C</text>
<text x="1465.45" y="584.00" font-family="Liberation Sans, Arial, sans-serif" font-size="22" text-anchor="middle" fill="#000">G</text>
<text x="1488.50" y="584" text-anchor="middle" font-family="Liberation Sans, Arial, sans-serif" font-size="22.2" font-weight="bold" fill="#5b9bd5">A</text>
<text x="1500.00" y="587.2" text-anchor="middle" font-family="Liberation Sans, Arial, sans-serif" font-size="14.3" font-weight="bold" fill="#5b9bd5">3</text>
<text x="1517.15" y="584.00" font-family="Liberation Sans, Arial, sans-serif" font-size="22" text-anchor="middle" fill="#000">G</text>
<text x="1543.00" y="584.00" font-family="Liberation Sans, Arial, sans-serif" font-size="22" text-anchor="middle" fill="#000">G</text>
<text x="1568.85" y="584.00" font-family="Liberation Sans, Arial, sans-serif" font-size="22" text-anchor="middle" fill="#bfbfbf">T</text>
<text x="1594.70" y="584.00" font-family="Liberation Sans, Arial, sans-serif" font-size="22" text-anchor="middle" fill="#bfbfbf">C</text>
<text x="1000.15" y="612.40" font-family="Liberation Sans, Arial, sans-serif" font-size="22.3" text-anchor="middle" fill="#000">PAM</text>
<polygon points="1405.25,612.3 1422.25,612.3 1413.75,598" fill="#000"/>
<path d="M1485.30,600 L1497.30,611.5 M1497.30,600 L1485.30,611.5" stroke="#ff0000" stroke-width="4.2" fill="none"/>
<rect x="327.00" y="616.90" width="142.60" height="73.30" fill="none" stroke="#000" stroke-width="1.6"/>
<text x="335.85" y="636.20" font-family="Liberation Sans, Arial, sans-serif" font-size="20.6" letter-spacing="0.247" fill="#000">Desired edits</text>
<text x="338.40" y="661.90" font-family="Liberation Sans, Arial, sans-serif" font-size="20.6" letter-spacing="0.241" fill="#000">Variation ID:</text>
<text x="369.37" y="687.30" font-family="Liberation Sans, Arial, sans-serif" font-size="20.6" letter-spacing="0.169" fill="#000">25174</text>
<rect x="495.50" y="616.90" width="65.10" height="49.00" fill="#fde8e0" stroke="#000" stroke-width="1.6"/>
<text x="502.58" y="636.20" font-family="Liberation Sans, Arial, sans-serif" font-size="20.6" letter-spacing="0.245" fill="#000">c.413</text>
<text x="497.60" y="660.70" font-family="Liberation Sans, Arial, sans-serif" font-size="20.6" letter-spacing="0.256" fill="#000">A-to-G</text>
<rect x="585.60" y="616.90" width="65.30" height="49.00" fill="none" stroke="#000" stroke-width="1.6"/>
<text x="592.88" y="636.20" font-family="Liberation Sans, Arial, sans-serif" font-size="20.6" letter-spacing="0.370" fill="#000">c.416</text>
<text x="588.20" y="660.70" font-family="Liberation Sans, Arial, sans-serif" font-size="20.6" letter-spacing="0.256" fill="#000">A-to-G</text>
<rect x="676.30" y="616.90" width="168.80" height="73.30" fill="none" stroke="#000" stroke-width="1.6"/>
<text x="717.85" y="647.90" font-family="Liberation Sans, Arial, sans-serif" font-size="20.6" letter-spacing="0.172" fill="#000">Possible</text>
<text x="684.68" y="673.60" font-family="Liberation Sans, Arial, sans-serif" font-size="20.6" letter-spacing="0.080" fill="#000">deleterious edits</text>
<path d="M472.80,643.6 L491.80,643.6 M485.80,639.6 L491.80,643.6 L485.80,647.6" stroke="#000" stroke-width="1.1" fill="none"/>
<path d="M673.00,643.6 L654.40,643.6 M660.40,639.6 L654.40,643.6 L660.40,647.6" stroke="#000" stroke-width="1.1" fill="none"/>
<rect x="1207.00" y="616.90" width="142.60" height="73.30" fill="none" stroke="#000" stroke-width="1.6"/>
<text x="1215.85" y="636.20" font-family="Liberation Sans, Arial, sans-serif" font-size="20.6" letter-spacing="0.247" fill="#000">Desired edits</text>
<text x="1218.40" y="661.90" font-family="Liberation Sans, Arial, sans-serif" font-size="20.6" letter-spacing="0.241" fill="#000">Variation ID:</text>
<text x="1249.47" y="687.30" font-family="Liberation Sans, Arial, sans-serif" font-size="20.6" letter-spacing="0.246" fill="#000">97237</text>
<rect x="1375.50" y="616.90" width="65.10" height="49.00" fill="#fde8e0" stroke="#000" stroke-width="1.6"/>
<text x="1382.58" y="636.20" font-family="Liberation Sans, Arial, sans-serif" font-size="20.6" letter-spacing="0.245" fill="#000">c.533</text>
<text x="1377.60" y="660.70" font-family="Liberation Sans, Arial, sans-serif" font-size="20.6" letter-spacing="0.256" fill="#000">A-to-G</text>
<rect x="1465.60" y="616.90" width="65.30" height="49.00" fill="none" stroke="#000" stroke-width="1.6"/>
<text x="1472.88" y="636.20" font-family="Liberation Sans, Arial, sans-serif" font-size="20.6" letter-spacing="0.370" fill="#000">c.536</text>
<text x="1468.20" y="660.70" font-family="Liberation Sans, Arial, sans-serif" font-size="20.6" letter-spacing="0.256" fill="#000">A-to-G</text>
<rect x="1556.30" y="616.90" width="168.80" height="73.30" fill="none" stroke="#000" stroke-width="1.6"/>
<text x="1561.75" y="636.20" font-family="Liberation Sans, Arial, sans-serif" font-size="20.6" letter-spacing="0.231" fill="#000">Deleterious edits</text>
<text x="1581.30" y="661.90" font-family="Liberation Sans, Arial, sans-serif" font-size="20.6" letter-spacing="0.225" fill="#000">Variation ID:</text>
<text x="1612.57" y="687.30" font-family="Liberation Sans, Arial, sans-serif" font-size="20.6" letter-spacing="0.071" fill="#000">97238</text>
<path d="M1352.80,643.6 L1371.80,643.6 M1365.80,639.6 L1371.80,643.6 L1365.80,647.6" stroke="#000" stroke-width="1.1" fill="none"/>
<path d="M1553.00,643.6 L1534.40,643.6 M1540.40,639.6 L1534.40,643.6 L1540.40,647.6" stroke="#000" stroke-width="1.1" fill="none"/>
<text x="12.60" y="761.20" font-family="Liberation Sans, Arial, sans-serif" font-size="22.2" text-anchor="middle" fill="#000">G</text>
<text x="38.62" y="761.20" font-family="Liberation Sans, Arial, sans-serif" font-size="22.2" text-anchor="middle" fill="#000">C</text>
<text x="61.34" y="761.20" font-family="Liberation Sans, Arial, sans-serif" font-size="22.2" text-anchor="middle" font-weight="bold" fill="#4472c4">A</text>
<text x="72.94" y="766.40" font-family="Liberation Sans, Arial, sans-serif" font-size="14.6" text-anchor="middle" font-weight="bold" fill="#4472c4">3</text>
<text x="90.66" y="761.20" font-family="Liberation Sans, Arial, sans-serif" font-size="22.2" text-anchor="middle" fill="#000">G</text>
<text x="116.68" y="761.20" font-family="Liberation Sans, Arial, sans-serif" font-size="22.2" text-anchor="middle" fill="#000">C</text>
<text x="141.70" y="761.20" font-family="Liberation Sans, Arial, sans-serif" font-size="22.2" text-anchor="middle" font-weight="bold" fill="#c00000">A</text>
<text x="152.70" y="766.40" font-family="Liberation Sans, Arial, sans-serif" font-size="14.6" text-anchor="middle" font-weight="bold" fill="#c00000">6</text>
<text x="168.72" y="761.20" font-family="Liberation Sans, Arial, sans-serif" font-size="22.2" text-anchor="middle" fill="#000">T</text>
<text x="194.74" y="761.20" font-family="Liberation Sans, Arial, sans-serif" font-size="22.2" text-anchor="middle" fill="#000">T</text>
<text x="220.76" y="761.20" font-family="Liberation Sans, Arial, sans-serif" font-size="22.2" text-anchor="middle" fill="#000">A</text>
<text x="246.78" y="761.20" font-family="Liberation Sans, Arial, sans-serif" font-size="22.2" text-anchor="middle" fill="#000">C</text>
<text x="272.80" y="761.20" font-family="Liberation Sans, Arial, sans-serif" font-size="22.2" text-anchor="middle" fill="#000">A</text>
<text x="298.82" y="761.20" font-family="Liberation Sans, Arial, sans-serif" font-size="22.2" text-anchor="middle" fill="#000">T</text>
<text x="324.84" y="761.20" font-family="Liberation Sans, Arial, sans-serif" font-size="22.2" text-anchor="middle" fill="#000">C</text>
<text x="350.86" y="761.20" font-family="Liberation Sans, Arial, sans-serif" font-size="22.2" text-anchor="middle" fill="#000">C</text>
<text x="376.88" y="761.20" font-family="Liberation Sans, Arial, sans-serif" font-size="22.2" text-anchor="middle" fill="#000">G</text>
<text x="402.90" y="761.20" font-family="Liberation Sans, Arial, sans-serif" font-size="22.2" text-anchor="middle" fill="#000">A</text>
<text x="428.92" y="761.20" font-family="Liberation Sans, Arial, sans-serif" font-size="22.2" text-anchor="middle" fill="#000">C</text>
<text x="454.94" y="761.20" font-family="Liberation Sans, Arial, sans-serif" font-size="22.2" text-anchor="middle" fill="#000">C</text>
<text x="480.96" y="761.20" font-family="Liberation Sans, Arial, sans-serif" font-size="22.2" text-anchor="middle" fill="#000">C</text>
<text x="506.98" y="761.20" font-family="Liberation Sans, Arial, sans-serif" font-size="22.2" text-anchor="middle" fill="#000">C</text>
<ellipse cx="13.40" cy="789.70" rx="6.2" ry="5.2" fill="#d9d9d9"/>
<ellipse cx="39.42" cy="789.70" rx="6.2" ry="5.2" fill="#d9d9d9"/>
<ellipse cx="65.44" cy="789.70" rx="6.2" ry="5.2" fill="#d9d9d9"/>
<ellipse cx="91.46" cy="789.70" rx="6.2" ry="5.2" fill="#d9d9d9"/>
<ellipse cx="117.48" cy="789.70" rx="6.2" ry="5.2" fill="#d9d9d9"/>
<rect x="130.00" y="778.00" width="25.40" height="23.40" fill="#fbe5d6" stroke="#f8cbad" stroke-width="2.6"/>
<text x="142.70" y="797.22" font-family="Liberation Sans, Arial, sans-serif" font-size="21" text-anchor="middle" font-weight="bold" fill="#c00000">G</text>
<ellipse cx="169.52" cy="789.70" rx="6.2" ry="5.2" fill="#d9d9d9"/>
<ellipse cx="195.54" cy="789.70" rx="6.2" ry="5.2" fill="#d9d9d9"/>
<ellipse cx="221.56" cy="789.70" rx="6.2" ry="5.2" fill="#d9d9d9"/>
<ellipse cx="247.58" cy="789.70" rx="6.2" ry="5.2" fill="#d9d9d9"/>
<ellipse cx="273.60" cy="789.70" rx="6.2" ry="5.2" fill="#d9d9d9"/>
<ellipse cx="299.62" cy="789.70" rx="6.2" ry="5.2" fill="#d9d9d9"/>
<ellipse cx="325.64" cy="789.70" rx="6.2" ry="5.2" fill="#d9d9d9"/>
<ellipse cx="351.66" cy="789.70" rx="6.2" ry="5.2" fill="#d9d9d9"/>
<ellipse cx="377.68" cy="789.70" rx="6.2" ry="5.2" fill="#d9d9d9"/>
<ellipse cx="403.70" cy="789.70" rx="6.2" ry="5.2" fill="#d9d9d9"/>
<ellipse cx="429.72" cy="789.70" rx="6.2" ry="5.2" fill="#d9d9d9"/>
<ellipse cx="455.74" cy="789.70" rx="6.2" ry="5.2" fill="#d9d9d9"/>
<ellipse cx="481.76" cy="789.70" rx="6.2" ry="5.2" fill="#d9d9d9"/>
<ellipse cx="507.78" cy="789.70" rx="6.2" ry="5.2" fill="#d9d9d9"/>
<ellipse cx="13.40" cy="820.20" rx="6.2" ry="5.2" fill="#d9d9d9"/>
<ellipse cx="39.42" cy="820.20" rx="6.2" ry="5.2" fill="#d9d9d9"/>
<rect x="51.94" y="808.50" width="25.40" height="23.40" fill="#dae3f3" stroke="#b4c7e7" stroke-width="2.6"/>
<text x="64.64" y="827.72" font-family="Liberation Sans, Arial, sans-serif" font-size="21" text-anchor="middle" font-weight="bold" fill="#4472c4">G</text>
<ellipse cx="91.46" cy="820.20" rx="6.2" ry="5.2" fill="#d9d9d9"/>
<ellipse cx="117.48" cy="820.20" rx="6.2" ry="5.2" fill="#d9d9d9"/>
<rect x="130.00" y="808.50" width="25.40" height="23.40" fill="#fbe5d6" stroke="#f8cbad" stroke-width="2.6"/>
<text x="142.70" y="827.72" font-family="Liberation Sans, Arial, sans-serif" font-size="21" text-anchor="middle" font-weight="bold" fill="#c00000">G</text>
<ellipse cx="169.52" cy="820.20" rx="6.2" ry="5.2" fill="#d9d9d9"/>
<ellipse cx="195.54" cy="820.20" rx="6.2" ry="5.2" fill="#d9d9d9"/>
<rect x="208.06" y="808.50" width="25.40" height="23.40" fill="#e7e7e7" stroke="#c9c9c9" stroke-width="2.6"/>
<text x="220.76" y="827.72" font-family="Liberation Sans, Arial, sans-serif" font-size="21" text-anchor="middle" font-weight="bold" fill="#7f7f7f">G</text>
<ellipse cx="247.58" cy="820.20" rx="6.2" ry="5.2" fill="#d9d9d9"/>
<rect x="260.10" y="808.50" width="25.40" height="23.40" fill="#e7e7e7" stroke="#c9c9c9" stroke-width="2.6"/>
<text x="272.80" y="827.72" font-family="Liberation Sans, Arial, sans-serif" font-size="21" text-anchor="middle" font-weight="bold" fill="#7f7f7f">G</text>
<ellipse cx="299.62" cy="820.20" rx="6.2" ry="5.2" fill="#d9d9d9"/>
<ellipse cx="325.64" cy="820.20" rx="6.2" ry="5.2" fill="#d9d9d9"/>
<ellipse cx="351.66" cy="820.20" rx="6.2" ry="5.2" fill="#d9d9d9"/>
<ellipse cx="377.68" cy="820.20" rx="6.2" ry="5.2" fill="#d9d9d9"/>
<ellipse cx="403.70" cy="820.20" rx="6.2" ry="5.2" fill="#d9d9d9"/>
<ellipse cx="429.72" cy="820.20" rx="6.2" ry="5.2" fill="#d9d9d9"/>
<ellipse cx="455.74" cy="820.20" rx="6.2" ry="5.2" fill="#d9d9d9"/>
<ellipse cx="481.76" cy="820.20" rx="6.2" ry="5.2" fill="#d9d9d9"/>
<ellipse cx="507.78" cy="820.20" rx="6.2" ry="5.2" fill="#d9d9d9"/>
<ellipse cx="13.40" cy="850.70" rx="6.2" ry="5.2" fill="#d9d9d9"/>
<ellipse cx="39.42" cy="850.70" rx="6.2" ry="5.2" fill="#d9d9d9"/>
<rect x="51.94" y="839.00" width="25.40" height="23.40" fill="#dae3f3" stroke="#b4c7e7" stroke-width="2.6"/>
<text x="64.64" y="858.22" font-family="Liberation Sans, Arial, sans-serif" font-size="21" text-anchor="middle" font-weight="bold" fill="#4472c4">G</text>
<ellipse cx="91.46" cy="850.70" rx="6.2" ry="5.2" fill="#d9d9d9"/>
<ellipse cx="117.48" cy="850.70" rx="6.2" ry="5.2" fill="#d9d9d9"/>
<rect x="130.00" y="839.00" width="25.40" height="23.40" fill="#fbe5d6" stroke="#f8cbad" stroke-width="2.6"/>
<text x="142.70" y="858.22" font-family="Liberation Sans, Arial, sans-serif" font-size="21" text-anchor="middle" font-weight="bold" fill="#c00000">G</text>
<ellipse cx="169.52" cy="850.70" rx="6.2" ry="5.2" fill="#d9d9d9"/>
<ellipse cx="195.54" cy="850.70" rx="6.2" ry="5.2" fill="#d9d9d9"/>
<rect x="208.06" y="839.00" width="25.40" height="23.40" fill="#e7e7e7" stroke="#c9c9c9" stroke-width="2.6"/>
<text x="220.76" y="858.22" font-family="Liberation Sans, Arial, sans-serif" font-size="21" text-anchor="middle" font-weight="bold" fill="#7f7f7f">G</text>
<ellipse cx="247.58" cy="850.70" rx="6.2" ry="5.2" fill="#d9d9d9"/>
<ellipse cx="273.60" cy="850.70" rx="5.5" ry="4.7" fill="#d9d9d9"/>
<ellipse cx="299.62" cy="850.70" rx="6.2" ry="5.2" fill="#d9d9d9"/>
<ellipse cx="325.64" cy="850.70" rx="6.2" ry="5.2" fill="#d9d9d9"/>
<ellipse cx="351.66" cy="850.70" rx="6.2" ry="5.2" fill="#d9d9d9"/>
<ellipse cx="377.68" cy="850.70" rx="6.2" ry="5.2" fill="#d9d9d9"/>
<ellipse cx="403.70" cy="850.70" rx="6.2" ry="5.2" fill="#d9d9d9"/>
<ellipse cx="429.72" cy="850.70" rx="6.2" ry="5.2" fill="#d9d9d9"/>
<ellipse cx="455.74" cy="850.70" rx="6.2" ry="5.2" fill="#d9d9d9"/>
<ellipse cx="481.76" cy="850.70" rx="6.2" ry="5.2" fill="#d9d9d9"/>
<ellipse cx="507.78" cy="850.70" rx="6.2" ry="5.2" fill="#d9d9d9"/>
<ellipse cx="13.40" cy="881.20" rx="6.2" ry="5.2" fill="#d9d9d9"/>
<ellipse cx="39.42" cy="881.20" rx="6.2" ry="5.2" fill="#d9d9d9"/>
<rect x="51.94" y="869.50" width="25.40" height="23.40" fill="#dae3f3" stroke="#b4c7e7" stroke-width="2.6"/>
<text x="64.64" y="888.72" font-family="Liberation Sans, Arial, sans-serif" font-size="21" text-anchor="middle" font-weight="bold" fill="#4472c4">G</text>
<ellipse cx="91.46" cy="881.20" rx="6.2" ry="5.2" fill="#d9d9d9"/>
<ellipse cx="117.48" cy="881.20" rx="6.2" ry="5.2" fill="#d9d9d9"/>
<rect x="130.00" y="869.50" width="25.40" height="23.40" fill="#fbe5d6" stroke="#f8cbad" stroke-width="2.6"/>
<text x="142.70" y="888.72" font-family="Liberation Sans, Arial, sans-serif" font-size="21" text-anchor="middle" font-weight="bold" fill="#c00000">G</text>
<ellipse cx="169.52" cy="881.20" rx="6.2" ry="5.2" fill="#d9d9d9"/>
<ellipse cx="195.54" cy="881.20" rx="6.2" ry="5.2" fill="#d9d9d9"/>
<ellipse cx="221.56" cy="881.20" rx="5.5" ry="4.7" fill="#d9d9d9"/>
<ellipse cx="247.58" cy="881.20" rx="6.2" ry="5.2" fill="#d9d9d9"/>
<rect x="260.10" y="869.50" width="25.40" height="23.40" fill="#e7e7e7" stroke="#c9c9c9" stroke-width="2.6"/>
<text x="272.80" y="888.72" font-family="Liberation Sans, Arial, sans-serif" font-size="21" text-anchor="middle" font-weight="bold" fill="#7f7f7f">G</text>
<ellipse cx="299.62" cy="881.20" rx="6.2" ry="5.2" fill="#d9d9d9"/>
<ellipse cx="325.64" cy="881.20" rx="6.2" ry="5.2" fill="#d9d9d9"/>
<ellipse cx="351.66" cy="881.20" rx="6.2" ry="5.2" fill="#d9d9d9"/>
<ellipse cx="377.68" cy="881.20" rx="6.2" ry="5.2" fill="#d9d9d9"/>
<ellipse cx="403.70" cy="881.20" rx="6.2" ry="5.2" fill="#d9d9d9"/>
<ellipse cx="429.72" cy="881.20" rx="6.2" ry="5.2" fill="#d9d9d9"/>
<ellipse cx="455.74" cy="881.20" rx="6.2" ry="5.2" fill="#d9d9d9"/>
<ellipse cx="481.76" cy="881.20" rx="6.2" ry="5.2" fill="#d9d9d9"/>
<ellipse cx="507.78" cy="881.20" rx="6.2" ry="5.2" fill="#d9d9d9"/>
<ellipse cx="13.40" cy="911.70" rx="6.2" ry="5.2" fill="#d9d9d9"/>
<ellipse cx="39.42" cy="911.70" rx="6.2" ry="5.2" fill="#d9d9d9"/>
<rect x="51.94" y="900.00" width="25.40" height="23.40" fill="#dae3f3" stroke="#b4c7e7" stroke-width="2.6"/>
<text x="64.64" y="919.22" font-family="Liberation Sans, Arial, sans-serif" font-size="21" text-anchor="middle" font-weight="bold" fill="#4472c4">G</text>
<ellipse cx="91.46" cy="911.70" rx="6.2" ry="5.2" fill="#d9d9d9"/>
<rect x="103.98" y="900.00" width="25.40" height="23.40" fill="#e7e7e7" stroke="#c9c9c9" stroke-width="2.6"/>
<text x="116.68" y="919.22" font-family="Liberation Sans, Arial, sans-serif" font-size="21" text-anchor="middle" font-weight="bold" fill="#7f7f7f">T</text>
<rect x="130.00" y="900.00" width="25.40" height="23.40" fill="#fbe5d6" stroke="#f8cbad" stroke-width="2.6"/>
<text x="142.70" y="919.22" font-family="Liberation Sans, Arial, sans-serif" font-size="21" text-anchor="middle" font-weight="bold" fill="#c00000">G</text>
<ellipse cx="169.52" cy="911.70" rx="6.2" ry="5.2" fill="#d9d9d9"/>
<ellipse cx="195.54" cy="911.70" rx="6.2" ry="5.2" fill="#d9d9d9"/>
<rect x="208.06" y="900.00" width="25.40" height="23.40" fill="#e7e7e7" stroke="#c9c9c9" stroke-width="2.6"/>
<text x="220.76" y="919.22" font-family="Liberation Sans, Arial, sans-serif" font-size="21" text-anchor="middle" font-weight="bold" fill="#7f7f7f">G</text>
<ellipse cx="247.58" cy="911.70" rx="6.2" ry="5.2" fill="#d9d9d9"/>
<ellipse cx="273.60" cy="911.70" rx="5.5" ry="4.7" fill="#d9d9d9"/>
<ellipse cx="299.62" cy="911.70" rx="6.2" ry="5.2" fill="#d9d9d9"/>
<ellipse cx="325.64" cy="911.70" rx="6.2" ry="5.2" fill="#d9d9d9"/>
<ellipse cx="351.66" cy="911.70" rx="6.2" ry="5.2" fill="#d9d9d9"/>
<ellipse cx="377.68" cy="911.70" rx="6.2" ry="5.2" fill="#d9d9d9"/>
<ellipse cx="403.70" cy="911.70" rx="6.2" ry="5.2" fill="#d9d9d9"/>
<ellipse cx="429.72" cy="911.70" rx="6.2" ry="5.2" fill="#d9d9d9"/>
<ellipse cx="455.74" cy="911.70" rx="6.2" ry="5.2" fill="#d9d9d9"/>
<ellipse cx="481.76" cy="911.70" rx="6.2" ry="5.2" fill="#d9d9d9"/>
<ellipse cx="507.78" cy="911.70" rx="6.2" ry="5.2" fill="#d9d9d9"/>
<ellipse cx="13.40" cy="942.20" rx="6.2" ry="5.2" fill="#d9d9d9"/>
<ellipse cx="39.42" cy="942.20" rx="6.2" ry="5.2" fill="#d9d9d9"/>
<ellipse cx="65.44" cy="942.20" rx="6.2" ry="5.2" fill="#d9d9d9"/>
<ellipse cx="91.46" cy="942.20" rx="6.2" ry="5.2" fill="#d9d9d9"/>
<ellipse cx="117.48" cy="942.20" rx="6.2" ry="5.2" fill="#d9d9d9"/>
<rect x="130.00" y="930.50" width="25.40" height="23.40" fill="#fbe5d6" stroke="#f8cbad" stroke-width="2.6"/>
<text x="142.70" y="949.72" font-family="Liberation Sans, Arial, sans-serif" font-size="21" text-anchor="middle" font-weight="bold" fill="#c00000">G</text>
<ellipse cx="169.52" cy="942.20" rx="6.2" ry="5.2" fill="#d9d9d9"/>
<ellipse cx="195.54" cy="942.20" rx="6.2" ry="5.2" fill="#d9d9d9"/>
<rect x="208.06" y="930.50" width="25.40" height="23.40" fill="#e7e7e7" stroke="#c9c9c9" stroke-width="2.6"/>
<text x="220.76" y="949.72" font-family="Liberation Sans, Arial, sans-serif" font-size="21" text-anchor="middle" font-weight="bold" fill="#7f7f7f">G</text>
<ellipse cx="247.58" cy="942.20" rx="6.2" ry="5.2" fill="#d9d9d9"/>
<rect x="260.10" y="930.50" width="25.40" height="23.40" fill="#e7e7e7" stroke="#c9c9c9" stroke-width="2.6"/>
<text x="272.80" y="949.72" font-family="Liberation Sans, Arial, sans-serif" font-size="21" text-anchor="middle" font-weight="bold" fill="#7f7f7f">G</text>
<ellipse cx="299.62" cy="942.20" rx="6.2" ry="5.2" fill="#d9d9d9"/>
<ellipse cx="325.64" cy="942.20" rx="6.2" ry="5.2" fill="#d9d9d9"/>
<ellipse cx="351.66" cy="942.20" rx="6.2" ry="5.2" fill="#d9d9d9"/>
<ellipse cx="377.68" cy="942.20" rx="6.2" ry="5.2" fill="#d9d9d9"/>
<ellipse cx="403.70" cy="942.20" rx="6.2" ry="5.2" fill="#d9d9d9"/>
<ellipse cx="429.72" cy="942.20" rx="6.2" ry="5.2" fill="#d9d9d9"/>
<ellipse cx="455.74" cy="942.20" rx="6.2" ry="5.2" fill="#d9d9d9"/>
<ellipse cx="481.76" cy="942.20" rx="6.2" ry="5.2" fill="#d9d9d9"/>
<ellipse cx="507.78" cy="942.20" rx="6.2" ry="5.2" fill="#d9d9d9"/>
<ellipse cx="13.40" cy="972.70" rx="6.2" ry="5.2" fill="#d9d9d9"/>
<ellipse cx="39.42" cy="972.70" rx="6.2" ry="5.2" fill="#d9d9d9"/>
<ellipse cx="65.44" cy="972.70" rx="6.2" ry="5.2" fill="#d9d9d9"/>
<ellipse cx="91.46" cy="972.70" rx="6.2" ry="5.2" fill="#d9d9d9"/>
<ellipse cx="117.48" cy="972.70" rx="6.2" ry="5.2" fill="#d9d9d9"/>
<rect x="130.00" y="961.00" width="25.40" height="23.40" fill="#fbe5d6" stroke="#f8cbad" stroke-width="2.6"/>
<text x="142.70" y="980.22" font-family="Liberation Sans, Arial, sans-serif" font-size="21" text-anchor="middle" font-weight="bold" fill="#c00000">G</text>
<ellipse cx="169.52" cy="972.70" rx="6.2" ry="5.2" fill="#d9d9d9"/>
<ellipse cx="195.54" cy="972.70" rx="6.2" ry="5.2" fill="#d9d9d9"/>
<rect x="208.06" y="961.00" width="25.40" height="23.40" fill="#e7e7e7" stroke="#c9c9c9" stroke-width="2.6"/>
<text x="220.76" y="980.22" font-family="Liberation Sans, Arial, sans-serif" font-size="21" text-anchor="middle" font-weight="bold" fill="#7f7f7f">G</text>
<ellipse cx="247.58" cy="972.70" rx="6.2" ry="5.2" fill="#d9d9d9"/>
<ellipse cx="273.60" cy="972.70" rx="5.5" ry="4.7" fill="#d9d9d9"/>
<ellipse cx="299.62" cy="972.70" rx="6.2" ry="5.2" fill="#d9d9d9"/>
<ellipse cx="325.64" cy="972.70" rx="6.2" ry="5.2" fill="#d9d9d9"/>
<ellipse cx="351.66" cy="972.70" rx="6.2" ry="5.2" fill="#d9d9d9"/>
<ellipse cx="377.68" cy="972.70" rx="6.2" ry="5.2" fill="#d9d9d9"/>
<ellipse cx="403.70" cy="972.70" rx="6.2" ry="5.2" fill="#d9d9d9"/>
<ellipse cx="429.72" cy="972.70" rx="6.2" ry="5.2" fill="#d9d9d9"/>
<ellipse cx="455.74" cy="972.70" rx="6.2" ry="5.2" fill="#d9d9d9"/>
<ellipse cx="481.76" cy="972.70" rx="6.2" ry="5.2" fill="#d9d9d9"/>
<ellipse cx="507.78" cy="972.70" rx="6.2" ry="5.2" fill="#d9d9d9"/>
<ellipse cx="13.40" cy="1003.20" rx="6.2" ry="5.2" fill="#d9d9d9"/>
<ellipse cx="39.42" cy="1003.20" rx="6.2" ry="5.2" fill="#d9d9d9"/>
<ellipse cx="65.44" cy="1003.20" rx="6.2" ry="5.2" fill="#d9d9d9"/>
<ellipse cx="91.46" cy="1003.20" rx="6.2" ry="5.2" fill="#d9d9d9"/>
<ellipse cx="117.48" cy="1003.20" rx="6.2" ry="5.2" fill="#d9d9d9"/>
<rect x="130.00" y="991.50" width="25.40" height="23.40" fill="#fbe5d6" stroke="#f8cbad" stroke-width="2.6"/>
<text x="142.70" y="1010.72" font-family="Liberation Sans, Arial, sans-serif" font-size="21" text-anchor="middle" font-weight="bold" fill="#c00000">G</text>
<ellipse cx="169.52" cy="1003.20" rx="6.2" ry="5.2" fill="#d9d9d9"/>
<ellipse cx="195.54" cy="1003.20" rx="6.2" ry="5.2" fill="#d9d9d9"/>
<ellipse cx="221.56" cy="1003.20" rx="5.5" ry="4.7" fill="#d9d9d9"/>
<ellipse cx="247.58" cy="1003.20" rx="6.2" ry="5.2" fill="#d9d9d9"/>
<rect x="260.10" y="991.50" width="25.40" height="23.40" fill="#e7e7e7" stroke="#c9c9c9" stroke-width="2.6"/>
<text x="272.80" y="1010.72" font-family="Liberation Sans, Arial, sans-serif" font-size="21" text-anchor="middle" font-weight="bold" fill="#7f7f7f">G</text>
<ellipse cx="299.62" cy="1003.20" rx="6.2" ry="5.2" fill="#d9d9d9"/>
<ellipse cx="325.64" cy="1003.20" rx="6.2" ry="5.2" fill="#d9d9d9"/>
<ellipse cx="351.66" cy="1003.20" rx="6.2" ry="5.2" fill="#d9d9d9"/>
<ellipse cx="377.68" cy="1003.20" rx="6.2" ry="5.2" fill="#d9d9d9"/>
<ellipse cx="403.70" cy="1003.20" rx="6.2" ry="5.2" fill="#d9d9d9"/>
<ellipse cx="429.72" cy="1003.20" rx="6.2" ry="5.2" fill="#d9d9d9"/>
<ellipse cx="455.74" cy="1003.20" rx="6.2" ry="5.2" fill="#d9d9d9"/>
<ellipse cx="481.76" cy="1003.20" rx="6.2" ry="5.2" fill="#d9d9d9"/>
<ellipse cx="507.78" cy="1003.20" rx="6.2" ry="5.2" fill="#d9d9d9"/>
<ellipse cx="13.40" cy="1033.70" rx="6.2" ry="5.2" fill="#d9d9d9"/>
<ellipse cx="39.42" cy="1033.70" rx="6.2" ry="5.2" fill="#d9d9d9"/>
<ellipse cx="65.44" cy="1033.70" rx="6.2" ry="5.2" fill="#d9d9d9"/>
<ellipse cx="91.46" cy="1033.70" rx="6.2" ry="5.2" fill="#d9d9d9"/>
<ellipse cx="117.48" cy="1033.70" rx="6.2" ry="5.2" fill="#d9d9d9"/>
<ellipse cx="143.50" cy="1033.70" rx="5.5" ry="4.7" fill="#d9d9d9"/>
<ellipse cx="169.52" cy="1033.70" rx="6.2" ry="5.2" fill="#d9d9d9"/>
<ellipse cx="195.54" cy="1033.70" rx="6.2" ry="5.2" fill="#d9d9d9"/>
<rect x="208.06" y="1022.00" width="25.40" height="23.40" fill="#e7e7e7" stroke="#c9c9c9" stroke-width="2.6"/>
<text x="220.76" y="1041.22" font-family="Liberation Sans, Arial, sans-serif" font-size="21" text-anchor="middle" font-weight="bold" fill="#7f7f7f">G</text>
<ellipse cx="247.58" cy="1033.70" rx="6.2" ry="5.2" fill="#d9d9d9"/>
<rect x="260.10" y="1022.00" width="25.40" height="23.40" fill="#e7e7e7" stroke="#c9c9c9" stroke-width="2.6"/>
<text x="272.80" y="1041.22" font-family="Liberation Sans, Arial, sans-serif" font-size="21" text-anchor="middle" font-weight="bold" fill="#7f7f7f">G</text>
<ellipse cx="299.62" cy="1033.70" rx="6.2" ry="5.2" fill="#d9d9d9"/>
<ellipse cx="325.64" cy="1033.70" rx="6.2" ry="5.2" fill="#d9d9d9"/>
<ellipse cx="351.66" cy="1033.70" rx="6.2" ry="5.2" fill="#d9d9d9"/>
<ellipse cx="377.68" cy="1033.70" rx="6.2" ry="5.2" fill="#d9d9d9"/>
<ellipse cx="403.70" cy="1033.70" rx="6.2" ry="5.2" fill="#d9d9d9"/>
<ellipse cx="429.72" cy="1033.70" rx="6.2" ry="5.2" fill="#d9d9d9"/>
<ellipse cx="455.74" cy="1033.70" rx="6.2" ry="5.2" fill="#d9d9d9"/>
<ellipse cx="481.76" cy="1033.70" rx="6.2" ry="5.2" fill="#d9d9d9"/>
<ellipse cx="507.78" cy="1033.70" rx="6.2" ry="5.2" fill="#d9d9d9"/>
<path d="M537.8,1050 L537.8,752.7 L858.2,752.7" stroke="#000" stroke-width="2.5" fill="none"/>
<line x1="537.80" y1="789.70" x2="551.30" y2="789.70" stroke="#000" stroke-width="2.5"/>
<line x1="537.80" y1="820.20" x2="551.30" y2="820.20" stroke="#000" stroke-width="2.5"/>
<line x1="537.80" y1="850.70" x2="551.30" y2="850.70" stroke="#000" stroke-width="2.5"/>
<line x1="537.80" y1="881.20" x2="551.30" y2="881.20" stroke="#000" stroke-width="2.5"/>
<line x1="537.80" y1="911.70" x2="551.30" y2="911.70" stroke="#000" stroke-width="2.5"/>
<line x1="537.80" y1="942.20" x2="551.30" y2="942.20" stroke="#000" stroke-width="2.5"/>
<line x1="537.80" y1="972.70" x2="551.30" y2="972.70" stroke="#000" stroke-width="2.5"/>
<line x1="537.80" y1="1003.20" x2="551.30" y2="1003.20" stroke="#000" stroke-width="2.5"/>
<line x1="537.80" y1="1033.70" x2="551.30" y2="1033.70" stroke="#000" stroke-width="2.5"/>
<line x1="600.20" y1="752.70" x2="612.60" y2="742.20" stroke="#000" stroke-width="2.5"/>
<line x1="693.80" y1="752.70" x2="706.20" y2="742.20" stroke="#000" stroke-width="2.5"/>
<line x1="783.20" y1="752.70" x2="795.60" y2="742.20" stroke="#000" stroke-width="2.5"/>
<text x="590.30" y="732.60" font-family="Liberation Sans, Arial, sans-serif" font-size="16.3" letter-spacing="0.165" fill="#000">ABE8e</text>
<text x="688.00" y="732.60" font-family="Liberation Sans, Arial, sans-serif" font-size="16.3" letter-spacing="0.029" fill="#000">ABE9</text>
<text x="771.10" y="714.80" font-family="Liberation Sans, Arial, sans-serif" font-size="16.3" letter-spacing="0.541" fill="#000">PNLM-</text>
<text x="771.42" y="734.80" font-family="Liberation Sans, Arial, sans-serif" font-size="16.3" letter-spacing="0.483" fill="#000">pcABE</text>
<rect x="652.20" y="778.55" width="201.80" height="22.30" fill="#fce4d6"/>
<rect x="554.30" y="809.05" width="113.00" height="22.30" fill="#dae3f3"/>
<rect x="554.30" y="839.55" width="113.00" height="22.30" fill="#dae3f3"/>
<rect x="554.30" y="870.05" width="113.00" height="22.30" fill="#dae3f3"/>
<text x="611.00" y="795.80" font-family="Liberation Sans, Arial, sans-serif" font-size="16.2" text-anchor="middle" fill="#bfbfbf" letter-spacing="0.15">n.s.</text>
<text x="611.00" y="826.30" font-family="Liberation Sans, Arial, sans-serif" font-size="16.2" text-anchor="middle" fill="#000" letter-spacing="0.15">15.2%</text>
<text x="611.00" y="856.80" font-family="Liberation Sans, Arial, sans-serif" font-size="16.2" text-anchor="middle" fill="#000" letter-spacing="0.15">8.9%</text>
<text x="611.00" y="887.30" font-family="Liberation Sans, Arial, sans-serif" font-size="16.2" text-anchor="middle" fill="#000" letter-spacing="0.15">2.6%</text>
<text x="611.00" y="917.80" font-family="Liberation Sans, Arial, sans-serif" font-size="16.2" text-anchor="middle" fill="#bfbfbf" letter-spacing="0.15">&lt; 1%</text>
<text x="611.00" y="948.30" font-family="Liberation Sans, Arial, sans-serif" font-size="16.2" text-anchor="middle" fill="#000" letter-spacing="0.15">39.2%</text>
<text x="611.00" y="978.80" font-family="Liberation Sans, Arial, sans-serif" font-size="16.2" text-anchor="middle" fill="#000" letter-spacing="0.15">6.2%</text>
<text x="611.00" y="1009.30" font-family="Liberation Sans, Arial, sans-serif" font-size="16.2" text-anchor="middle" fill="#000" letter-spacing="0.15">4.8%</text>
<text x="611.00" y="1039.80" font-family="Liberation Sans, Arial, sans-serif" font-size="16.2" text-anchor="middle" fill="#000" letter-spacing="0.15">1.7%</text>
<text x="685.50" y="795.80" font-family="Liberation Sans, Arial, sans-serif" font-size="16.2" fill="#000" letter-spacing="0.15">6.05%</text>
<text x="773.50" y="795.80" font-family="Liberation Sans, Arial, sans-serif" font-size="16.2" fill="#000" letter-spacing="0.15">66.4%</text>
<text x="685.50" y="826.30" font-family="Liberation Sans, Arial, sans-serif" font-size="16.2" fill="#bfbfbf" letter-spacing="0.15">n.s.</text>
<text x="773.50" y="826.30" font-family="Liberation Sans, Arial, sans-serif" font-size="16.2" fill="#bfbfbf" letter-spacing="0.15">n.s.</text>
<text x="685.50" y="856.80" font-family="Liberation Sans, Arial, sans-serif" font-size="16.2" fill="#bfbfbf" letter-spacing="0.15">n.s.</text>
<text x="773.50" y="856.80" font-family="Liberation Sans, Arial, sans-serif" font-size="16.2" fill="#bfbfbf" letter-spacing="0.15">n.s.</text>
<text x="685.50" y="887.30" font-family="Liberation Sans, Arial, sans-serif" font-size="16.2" fill="#bfbfbf" letter-spacing="0.15">n.s.</text>
<text x="773.50" y="887.30" font-family="Liberation Sans, Arial, sans-serif" font-size="16.2" fill="#bfbfbf" letter-spacing="0.15">n.s.</text>
<text x="685.50" y="917.80" font-family="Liberation Sans, Arial, sans-serif" font-size="16.2" fill="#bfbfbf" letter-spacing="0.15">n.s.</text>
<text x="773.50" y="917.80" font-family="Liberation Sans, Arial, sans-serif" font-size="16.2" fill="#bfbfbf" letter-spacing="0.15">n.s.</text>
<text x="685.50" y="948.30" font-family="Liberation Sans, Arial, sans-serif" font-size="16.2" fill="#bfbfbf" letter-spacing="0.15">n.s.</text>
<text x="773.50" y="948.30" font-family="Liberation Sans, Arial, sans-serif" font-size="16.2" fill="#bfbfbf" letter-spacing="0.15">n.s.</text>
<text x="685.50" y="978.80" font-family="Liberation Sans, Arial, sans-serif" font-size="16.2" fill="#bfbfbf" letter-spacing="0.15">n.s.</text>
<text x="773.50" y="978.80" font-family="Liberation Sans, Arial, sans-serif" font-size="16.2" fill="#bfbfbf" letter-spacing="0.15">n.s.</text>
<text x="685.50" y="1009.30" font-family="Liberation Sans, Arial, sans-serif" font-size="16.2" fill="#bfbfbf" letter-spacing="0.15">n.s.</text>
<text x="786.30" y="1009.30" font-family="Liberation Sans, Arial, sans-serif" font-size="16.2" text-anchor="middle" fill="#000" letter-spacing="0.15">2.2%</text>
<text x="685.50" y="1039.80" font-family="Liberation Sans, Arial, sans-serif" font-size="16.2" fill="#bfbfbf" letter-spacing="0.15">n.s.</text>
<text x="773.50" y="1039.80" font-family="Liberation Sans, Arial, sans-serif" font-size="16.2" fill="#bfbfbf" letter-spacing="0.15">n.s.</text>
<text x="892.30" y="754.80" font-family="Liberation Sans, Arial, sans-serif" font-size="22.2" text-anchor="middle" fill="#000">G</text>
<text x="918.30" y="754.80" font-family="Liberation Sans, Arial, sans-serif" font-size="22.2" text-anchor="middle" fill="#000">G</text>
<text x="942.70" y="754.80" font-family="Liberation Sans, Arial, sans-serif" font-size="22.2" text-anchor="middle" font-weight="bold" fill="#4472c4">A</text>
<text x="953.80" y="760.00" font-family="Liberation Sans, Arial, sans-serif" font-size="14.6" text-anchor="middle" font-weight="bold" fill="#4472c4">3</text>
<text x="970.30" y="754.80" font-family="Liberation Sans, Arial, sans-serif" font-size="22.2" text-anchor="middle" fill="#000">G</text>
<text x="996.30" y="754.80" font-family="Liberation Sans, Arial, sans-serif" font-size="22.2" text-anchor="middle" fill="#000">C</text>
<text x="1022.10" y="754.80" font-family="Liberation Sans, Arial, sans-serif" font-size="22.2" text-anchor="middle" font-weight="bold" fill="#c00000">A</text>
<text x="1032.80" y="760.00" font-family="Liberation Sans, Arial, sans-serif" font-size="14.6" text-anchor="middle" font-weight="bold" fill="#c00000">6</text>
<text x="1048.30" y="754.80" font-family="Liberation Sans, Arial, sans-serif" font-size="22.2" text-anchor="middle" fill="#000">T</text>
<text x="1074.30" y="754.80" font-family="Liberation Sans, Arial, sans-serif" font-size="22.2" text-anchor="middle" fill="#000">G</text>
<text x="1100.30" y="754.80" font-family="Liberation Sans, Arial, sans-serif" font-size="22.2" text-anchor="middle" fill="#000">A</text>
<text x="1126.30" y="754.80" font-family="Liberation Sans, Arial, sans-serif" font-size="22.2" text-anchor="middle" fill="#000">G</text>
<text x="1152.30" y="754.80" font-family="Liberation Sans, Arial, sans-serif" font-size="22.2" text-anchor="middle" fill="#000">G</text>
<text x="1178.30" y="754.80" font-family="Liberation Sans, Arial, sans-serif" font-size="22.2" text-anchor="middle" fill="#000">T</text>
<text x="1204.30" y="754.80" font-family="Liberation Sans, Arial, sans-serif" font-size="22.2" text-anchor="middle" fill="#000">A</text>
<text x="1230.30" y="754.80" font-family="Liberation Sans, Arial, sans-serif" font-size="22.2" text-anchor="middle" fill="#000">A</text>
<text x="1256.30" y="754.80" font-family="Liberation Sans, Arial, sans-serif" font-size="22.2" text-anchor="middle" fill="#000">T</text>
<text x="1282.30" y="754.80" font-family="Liberation Sans, Arial, sans-serif" font-size="22.2" text-anchor="middle" fill="#000">C</text>
<text x="1308.30" y="754.80" font-family="Liberation Sans, Arial, sans-serif" font-size="22.2" text-anchor="middle" fill="#000">A</text>
<text x="1334.30" y="754.80" font-family="Liberation Sans, Arial, sans-serif" font-size="22.2" text-anchor="middle" fill="#000">G</text>
<text x="1360.30" y="754.80" font-family="Liberation Sans, Arial, sans-serif" font-size="22.2" text-anchor="middle" fill="#000">C</text>
<text x="1386.30" y="754.80" font-family="Liberation Sans, Arial, sans-serif" font-size="22.2" text-anchor="middle" fill="#000">C</text>
<ellipse cx="892.80" cy="777.40" rx="6.2" ry="4.4" fill="#d9d9d9"/>
<ellipse cx="918.80" cy="777.40" rx="6.2" ry="4.4" fill="#d9d9d9"/>
<ellipse cx="944.80" cy="777.40" rx="6.2" ry="4.4" fill="#d9d9d9"/>
<ellipse cx="970.80" cy="777.40" rx="6.2" ry="4.4" fill="#d9d9d9"/>
<ellipse cx="996.80" cy="777.40" rx="6.2" ry="4.4" fill="#d9d9d9"/>
<rect x="1009.45" y="767.70" width="25.70" height="19.40" fill="#fbe5d6" stroke="#f8cbad" stroke-width="2.6"/>
<text x="1022.30" y="784.56" font-family="Liberation Sans, Arial, sans-serif" font-size="20" text-anchor="middle" font-weight="bold" fill="#c00000">G</text>
<ellipse cx="1048.80" cy="777.40" rx="6.2" ry="4.4" fill="#d9d9d9"/>
<ellipse cx="1074.80" cy="777.40" rx="6.2" ry="4.4" fill="#d9d9d9"/>
<ellipse cx="1100.80" cy="777.40" rx="6.2" ry="4.4" fill="#d9d9d9"/>
<ellipse cx="1126.80" cy="777.40" rx="6.2" ry="4.4" fill="#d9d9d9"/>
<ellipse cx="1152.80" cy="777.40" rx="6.2" ry="4.4" fill="#d9d9d9"/>
<ellipse cx="1178.80" cy="777.40" rx="6.2" ry="4.4" fill="#d9d9d9"/>
<ellipse cx="1204.80" cy="777.40" rx="6.2" ry="4.4" fill="#d9d9d9"/>
<ellipse cx="1230.80" cy="777.40" rx="6.2" ry="4.4" fill="#d9d9d9"/>
<ellipse cx="1256.80" cy="777.40" rx="6.2" ry="4.4" fill="#d9d9d9"/>
<ellipse cx="1282.80" cy="777.40" rx="6.2" ry="4.4" fill="#d9d9d9"/>
<ellipse cx="1308.80" cy="777.40" rx="6.2" ry="4.4" fill="#d9d9d9"/>
<ellipse cx="1334.80" cy="777.40" rx="6.2" ry="4.4" fill="#d9d9d9"/>
<ellipse cx="1360.80" cy="777.40" rx="6.2" ry="4.4" fill="#d9d9d9"/>
<ellipse cx="1386.80" cy="777.40" rx="6.2" ry="4.4" fill="#d9d9d9"/>
<ellipse cx="892.80" cy="803.20" rx="6.2" ry="4.4" fill="#d9d9d9"/>
<ellipse cx="918.80" cy="803.20" rx="6.2" ry="4.4" fill="#d9d9d9"/>
<rect x="931.45" y="793.50" width="25.70" height="19.40" fill="#dae3f3" stroke="#b4c7e7" stroke-width="2.6"/>
<text x="944.30" y="810.36" font-family="Liberation Sans, Arial, sans-serif" font-size="20" text-anchor="middle" font-weight="bold" fill="#4472c4">G</text>
<ellipse cx="970.80" cy="803.20" rx="6.2" ry="4.4" fill="#d9d9d9"/>
<ellipse cx="996.80" cy="803.20" rx="6.2" ry="4.4" fill="#d9d9d9"/>
<rect x="1009.45" y="793.50" width="25.70" height="19.40" fill="#fbe5d6" stroke="#f8cbad" stroke-width="2.6"/>
<text x="1022.30" y="810.36" font-family="Liberation Sans, Arial, sans-serif" font-size="20" text-anchor="middle" font-weight="bold" fill="#c00000">G</text>
<ellipse cx="1048.80" cy="803.20" rx="6.2" ry="4.4" fill="#d9d9d9"/>
<ellipse cx="1074.80" cy="803.20" rx="6.2" ry="4.4" fill="#d9d9d9"/>
<ellipse cx="1100.80" cy="803.20" rx="5.5" ry="3.9000000000000004" fill="#d9d9d9"/>
<ellipse cx="1126.80" cy="803.20" rx="6.2" ry="4.4" fill="#d9d9d9"/>
<ellipse cx="1152.80" cy="803.20" rx="6.2" ry="4.4" fill="#d9d9d9"/>
<ellipse cx="1178.80" cy="803.20" rx="6.2" ry="4.4" fill="#d9d9d9"/>
<rect x="1191.45" y="793.50" width="25.70" height="19.40" fill="#e7e7e7" stroke="#c9c9c9" stroke-width="2.6"/>
<text x="1204.30" y="810.36" font-family="Liberation Sans, Arial, sans-serif" font-size="20" text-anchor="middle" font-weight="bold" fill="#7f7f7f">G</text>
<ellipse cx="1230.80" cy="803.20" rx="6.2" ry="4.4" fill="#d9d9d9"/>
<ellipse cx="1256.80" cy="803.20" rx="6.2" ry="4.4" fill="#d9d9d9"/>
<ellipse cx="1282.80" cy="803.20" rx="6.2" ry="4.4" fill="#d9d9d9"/>
<ellipse cx="1308.80" cy="803.20" rx="6.2" ry="4.4" fill="#d9d9d9"/>
<ellipse cx="1334.80" cy="803.20" rx="6.2" ry="4.4" fill="#d9d9d9"/>
<ellipse cx="1360.80" cy="803.20" rx="6.2" ry="4.4" fill="#d9d9d9"/>
<ellipse cx="1386.80" cy="803.20" rx="6.2" ry="4.4" fill="#d9d9d9"/>
<ellipse cx="892.80" cy="829.00" rx="6.2" ry="4.4" fill="#d9d9d9"/>
<ellipse cx="918.80" cy="829.00" rx="6.2" ry="4.4" fill="#d9d9d9"/>
<rect x="931.45" y="819.30" width="25.70" height="19.40" fill="#dae3f3" stroke="#b4c7e7" stroke-width="2.6"/>
<text x="944.30" y="836.16" font-family="Liberation Sans, Arial, sans-serif" font-size="20" text-anchor="middle" font-weight="bold" fill="#4472c4">G</text>
<ellipse cx="970.80" cy="829.00" rx="6.2" ry="4.4" fill="#d9d9d9"/>
<ellipse cx="996.80" cy="829.00" rx="6.2" ry="4.4" fill="#d9d9d9"/>
<rect x="1009.45" y="819.30" width="25.70" height="19.40" fill="#fbe5d6" stroke="#f8cbad" stroke-width="2.6"/>
<text x="1022.30" y="836.16" font-family="Liberation Sans, Arial, sans-serif" font-size="20" text-anchor="middle" font-weight="bold" fill="#c00000">G</text>
<ellipse cx="1048.80" cy="829.00" rx="6.2" ry="4.4" fill="#d9d9d9"/>
<ellipse cx="1074.80" cy="829.00" rx="6.2" ry="4.4" fill="#d9d9d9"/>
<rect x="1087.45" y="819.30" width="25.70" height="19.40" fill="#e7e7e7" stroke="#c9c9c9" stroke-width="2.6"/>
<text x="1100.30" y="836.16" font-family="Liberation Sans, Arial, sans-serif" font-size="20" text-anchor="middle" font-weight="bold" fill="#7f7f7f">G</text>
<ellipse cx="1126.80" cy="829.00" rx="6.2" ry="4.4" fill="#d9d9d9"/>
<ellipse cx="1152.80" cy="829.00" rx="6.2" ry="4.4" fill="#d9d9d9"/>
<ellipse cx="1178.80" cy="829.00" rx="6.2" ry="4.4" fill="#d9d9d9"/>
<rect x="1191.45" y="819.30" width="25.70" height="19.40" fill="#e7e7e7" stroke="#c9c9c9" stroke-width="2.6"/>
<text x="1204.30" y="836.16" font-family="Liberation Sans, Arial, sans-serif" font-size="20" text-anchor="middle" font-weight="bold" fill="#7f7f7f">G</text>
<ellipse cx="1230.80" cy="829.00" rx="6.2" ry="4.4" fill="#d9d9d9"/>
<ellipse cx="1256.80" cy="829.00" rx="6.2" ry="4.4" fill="#d9d9d9"/>
<ellipse cx="1282.80" cy="829.00" rx="6.2" ry="4.4" fill="#d9d9d9"/>
<ellipse cx="1308.80" cy="829.00" rx="6.2" ry="4.4" fill="#d9d9d9"/>
<ellipse cx="1334.80" cy="829.00" rx="6.2" ry="4.4" fill="#d9d9d9"/>
<ellipse cx="1360.80" cy="829.00" rx="6.2" ry="4.4" fill="#d9d9d9"/>
<ellipse cx="1386.80" cy="829.00" rx="6.2" ry="4.4" fill="#d9d9d9"/>
<ellipse cx="892.80" cy="854.80" rx="6.2" ry="4.4" fill="#d9d9d9"/>
<ellipse cx="918.80" cy="854.80" rx="6.2" ry="4.4" fill="#d9d9d9"/>
<rect x="931.45" y="845.10" width="25.70" height="19.40" fill="#dae3f3" stroke="#b4c7e7" stroke-width="2.6"/>
<text x="944.30" y="861.96" font-family="Liberation Sans, Arial, sans-serif" font-size="20" text-anchor="middle" font-weight="bold" fill="#4472c4">G</text>
<ellipse cx="970.80" cy="854.80" rx="6.2" ry="4.4" fill="#d9d9d9"/>
<ellipse cx="996.80" cy="854.80" rx="6.2" ry="4.4" fill="#d9d9d9"/>
<rect x="1009.45" y="845.10" width="25.70" height="19.40" fill="#fbe5d6" stroke="#f8cbad" stroke-width="2.6"/>
<text x="1022.30" y="861.96" font-family="Liberation Sans, Arial, sans-serif" font-size="20" text-anchor="middle" font-weight="bold" fill="#c00000">G</text>
<ellipse cx="1048.80" cy="854.80" rx="6.2" ry="4.4" fill="#d9d9d9"/>
<ellipse cx="1074.80" cy="854.80" rx="6.2" ry="4.4" fill="#d9d9d9"/>
<ellipse cx="1100.80" cy="854.80" rx="5.5" ry="3.9000000000000004" fill="#d9d9d9"/>
<ellipse cx="1126.80" cy="854.80" rx="6.2" ry="4.4" fill="#d9d9d9"/>
<ellipse cx="1152.80" cy="854.80" rx="6.2" ry="4.4" fill="#d9d9d9"/>
<ellipse cx="1178.80" cy="854.80" rx="6.2" ry="4.4" fill="#d9d9d9"/>
<ellipse cx="1204.80" cy="854.80" rx="5.5" ry="3.9000000000000004" fill="#d9d9d9"/>
<ellipse cx="1230.80" cy="854.80" rx="6.2" ry="4.4" fill="#d9d9d9"/>
<ellipse cx="1256.80" cy="854.80" rx="6.2" ry="4.4" fill="#d9d9d9"/>
<ellipse cx="1282.80" cy="854.80" rx="6.2" ry="4.4" fill="#d9d9d9"/>
<ellipse cx="1308.80" cy="854.80" rx="6.2" ry="4.4" fill="#d9d9d9"/>
<ellipse cx="1334.80" cy="854.80" rx="6.2" ry="4.4" fill="#d9d9d9"/>
<ellipse cx="1360.80" cy="854.80" rx="6.2" ry="4.4" fill="#d9d9d9"/>
<ellipse cx="1386.80" cy="854.80" rx="6.2" ry="4.4" fill="#d9d9d9"/>
<ellipse cx="892.80" cy="880.60" rx="6.2" ry="4.4" fill="#d9d9d9"/>
<ellipse cx="918.80" cy="880.60" rx="6.2" ry="4.4" fill="#d9d9d9"/>
<rect x="931.45" y="870.90" width="25.70" height="19.40" fill="#dae3f3" stroke="#b4c7e7" stroke-width="2.6"/>
<text x="944.30" y="887.76" font-family="Liberation Sans, Arial, sans-serif" font-size="20" text-anchor="middle" font-weight="bold" fill="#4472c4">G</text>
<ellipse cx="970.80" cy="880.60" rx="6.2" ry="4.4" fill="#d9d9d9"/>
<ellipse cx="996.80" cy="880.60" rx="6.2" ry="4.4" fill="#d9d9d9"/>
<rect x="1009.45" y="870.90" width="25.70" height="19.40" fill="#fbe5d6" stroke="#f8cbad" stroke-width="2.6"/>
<text x="1022.30" y="887.76" font-family="Liberation Sans, Arial, sans-serif" font-size="20" text-anchor="middle" font-weight="bold" fill="#c00000">G</text>
<ellipse cx="1048.80" cy="880.60" rx="6.2" ry="4.4" fill="#d9d9d9"/>
<ellipse cx="1074.80" cy="880.60" rx="6.2" ry="4.4" fill="#d9d9d9"/>
<rect x="1087.45" y="870.90" width="25.70" height="19.40" fill="#e7e7e7" stroke="#c9c9c9" stroke-width="2.6"/>
<text x="1100.30" y="887.76" font-family="Liberation Sans, Arial, sans-serif" font-size="20" text-anchor="middle" font-weight="bold" fill="#7f7f7f">G</text>
<ellipse cx="1126.80" cy="880.60" rx="6.2" ry="4.4" fill="#d9d9d9"/>
<ellipse cx="1152.80" cy="880.60" rx="6.2" ry="4.4" fill="#d9d9d9"/>
<ellipse cx="1178.80" cy="880.60" rx="6.2" ry="4.4" fill="#d9d9d9"/>
<ellipse cx="1204.80" cy="880.60" rx="5.5" ry="3.9000000000000004" fill="#d9d9d9"/>
<ellipse cx="1230.80" cy="880.60" rx="6.2" ry="4.4" fill="#d9d9d9"/>
<ellipse cx="1256.80" cy="880.60" rx="6.2" ry="4.4" fill="#d9d9d9"/>
<ellipse cx="1282.80" cy="880.60" rx="6.2" ry="4.4" fill="#d9d9d9"/>
<ellipse cx="1308.80" cy="880.60" rx="6.2" ry="4.4" fill="#d9d9d9"/>
<ellipse cx="1334.80" cy="880.60" rx="6.2" ry="4.4" fill="#d9d9d9"/>
<ellipse cx="1360.80" cy="880.60" rx="6.2" ry="4.4" fill="#d9d9d9"/>
<ellipse cx="1386.80" cy="880.60" rx="6.2" ry="4.4" fill="#d9d9d9"/>
<ellipse cx="892.80" cy="906.40" rx="6.2" ry="4.4" fill="#d9d9d9"/>
<ellipse cx="918.80" cy="906.40" rx="6.2" ry="4.4" fill="#d9d9d9"/>
<rect x="931.45" y="896.70" width="25.70" height="19.40" fill="#dae3f3" stroke="#b4c7e7" stroke-width="2.6"/>
<text x="944.30" y="913.56" font-family="Liberation Sans, Arial, sans-serif" font-size="20" text-anchor="middle" font-weight="bold" fill="#4472c4">G</text>
<ellipse cx="970.80" cy="906.40" rx="6.2" ry="4.4" fill="#d9d9d9"/>
<rect x="983.45" y="896.70" width="25.70" height="19.40" fill="#e7e7e7" stroke="#c9c9c9" stroke-width="2.6"/>
<text x="996.30" y="913.56" font-family="Liberation Sans, Arial, sans-serif" font-size="20" text-anchor="middle" font-weight="bold" fill="#7f7f7f">T</text>
<rect x="1009.45" y="896.70" width="25.70" height="19.40" fill="#fbe5d6" stroke="#f8cbad" stroke-width="2.6"/>
<text x="1022.30" y="913.56" font-family="Liberation Sans, Arial, sans-serif" font-size="20" text-anchor="middle" font-weight="bold" fill="#c00000">G</text>
<ellipse cx="1048.80" cy="906.40" rx="6.2" ry="4.4" fill="#d9d9d9"/>
<ellipse cx="1074.80" cy="906.40" rx="6.2" ry="4.4" fill="#d9d9d9"/>
<ellipse cx="1100.80" cy="906.40" rx="5.5" ry="3.9000000000000004" fill="#d9d9d9"/>
<ellipse cx="1126.80" cy="906.40" rx="6.2" ry="4.4" fill="#d9d9d9"/>
<ellipse cx="1152.80" cy="906.40" rx="6.2" ry="4.4" fill="#d9d9d9"/>
<ellipse cx="1178.80" cy="906.40" rx="6.2" ry="4.4" fill="#d9d9d9"/>
<rect x="1191.45" y="896.70" width="25.70" height="19.40" fill="#e7e7e7" stroke="#c9c9c9" stroke-width="2.6"/>
<text x="1204.30" y="913.56" font-family="Liberation Sans, Arial, sans-serif" font-size="20" text-anchor="middle" font-weight="bold" fill="#7f7f7f">G</text>
<ellipse cx="1230.80" cy="906.40" rx="6.2" ry="4.4" fill="#d9d9d9"/>
<ellipse cx="1256.80" cy="906.40" rx="6.2" ry="4.4" fill="#d9d9d9"/>
<ellipse cx="1282.80" cy="906.40" rx="6.2" ry="4.4" fill="#d9d9d9"/>
<ellipse cx="1308.80" cy="906.40" rx="6.2" ry="4.4" fill="#d9d9d9"/>
<ellipse cx="1334.80" cy="906.40" rx="6.2" ry="4.4" fill="#d9d9d9"/>
<ellipse cx="1360.80" cy="906.40" rx="6.2" ry="4.4" fill="#d9d9d9"/>
<ellipse cx="1386.80" cy="906.40" rx="6.2" ry="4.4" fill="#d9d9d9"/>
<ellipse cx="892.80" cy="932.20" rx="6.2" ry="4.4" fill="#d9d9d9"/>
<ellipse cx="918.80" cy="932.20" rx="6.2" ry="4.4" fill="#d9d9d9"/>
<rect x="931.45" y="922.50" width="25.70" height="19.40" fill="#dae3f3" stroke="#b4c7e7" stroke-width="2.6"/>
<text x="944.30" y="939.36" font-family="Liberation Sans, Arial, sans-serif" font-size="20" text-anchor="middle" font-weight="bold" fill="#4472c4">G</text>
<ellipse cx="970.80" cy="932.20" rx="6.2" ry="4.4" fill="#d9d9d9"/>
<rect x="983.45" y="922.50" width="25.70" height="19.40" fill="#e7e7e7" stroke="#c9c9c9" stroke-width="2.6"/>
<text x="996.30" y="939.36" font-family="Liberation Sans, Arial, sans-serif" font-size="20" text-anchor="middle" font-weight="bold" fill="#7f7f7f">G</text>
<rect x="1009.45" y="922.50" width="25.70" height="19.40" fill="#fbe5d6" stroke="#f8cbad" stroke-width="2.6"/>
<text x="1022.30" y="939.36" font-family="Liberation Sans, Arial, sans-serif" font-size="20" text-anchor="middle" font-weight="bold" fill="#c00000">G</text>
<ellipse cx="1048.80" cy="932.20" rx="6.2" ry="4.4" fill="#d9d9d9"/>
<ellipse cx="1074.80" cy="932.20" rx="6.2" ry="4.4" fill="#d9d9d9"/>
<ellipse cx="1100.80" cy="932.20" rx="5.5" ry="3.9000000000000004" fill="#d9d9d9"/>
<ellipse cx="1126.80" cy="932.20" rx="6.2" ry="4.4" fill="#d9d9d9"/>
<ellipse cx="1152.80" cy="932.20" rx="6.2" ry="4.4" fill="#d9d9d9"/>
<ellipse cx="1178.80" cy="932.20" rx="6.2" ry="4.4" fill="#d9d9d9"/>
<ellipse cx="1204.80" cy="932.20" rx="5.5" ry="3.9000000000000004" fill="#d9d9d9"/>
<ellipse cx="1230.80" cy="932.20" rx="6.2" ry="4.4" fill="#d9d9d9"/>
<ellipse cx="1256.80" cy="932.20" rx="6.2" ry="4.4" fill="#d9d9d9"/>
<ellipse cx="1282.80" cy="932.20" rx="6.2" ry="4.4" fill="#d9d9d9"/>
<ellipse cx="1308.80" cy="932.20" rx="6.2" ry="4.4" fill="#d9d9d9"/>
<ellipse cx="1334.80" cy="932.20" rx="6.2" ry="4.4" fill="#d9d9d9"/>
<ellipse cx="1360.80" cy="932.20" rx="6.2" ry="4.4" fill="#d9d9d9"/>
<ellipse cx="1386.80" cy="932.20" rx="6.2" ry="4.4" fill="#d9d9d9"/>
<ellipse cx="892.80" cy="958.00" rx="6.2" ry="4.4" fill="#d9d9d9"/>
<ellipse cx="918.80" cy="958.00" rx="6.2" ry="4.4" fill="#d9d9d9"/>
<rect x="931.45" y="948.30" width="25.70" height="19.40" fill="#dae3f3" stroke="#b4c7e7" stroke-width="2.6"/>
<text x="944.30" y="965.16" font-family="Liberation Sans, Arial, sans-serif" font-size="20" text-anchor="middle" font-weight="bold" fill="#4472c4">G</text>
<ellipse cx="970.80" cy="958.00" rx="6.2" ry="4.4" fill="#d9d9d9"/>
<rect x="983.45" y="948.30" width="25.70" height="19.40" fill="#e7e7e7" stroke="#c9c9c9" stroke-width="2.6"/>
<text x="996.30" y="965.16" font-family="Liberation Sans, Arial, sans-serif" font-size="20" text-anchor="middle" font-weight="bold" fill="#7f7f7f">T</text>
<rect x="1009.45" y="948.30" width="25.70" height="19.40" fill="#fbe5d6" stroke="#f8cbad" stroke-width="2.6"/>
<text x="1022.30" y="965.16" font-family="Liberation Sans, Arial, sans-serif" font-size="20" text-anchor="middle" font-weight="bold" fill="#c00000">G</text>
<ellipse cx="1048.80" cy="958.00" rx="6.2" ry="4.4" fill="#d9d9d9"/>
<ellipse cx="1074.80" cy="958.00" rx="6.2" ry="4.4" fill="#d9d9d9"/>
<rect x="1087.45" y="948.30" width="25.70" height="19.40" fill="#e7e7e7" stroke="#c9c9c9" stroke-width="2.6"/>
<text x="1100.30" y="965.16" font-family="Liberation Sans, Arial, sans-serif" font-size="20" text-anchor="middle" font-weight="bold" fill="#7f7f7f">G</text>
<ellipse cx="1126.80" cy="958.00" rx="6.2" ry="4.4" fill="#d9d9d9"/>
<ellipse cx="1152.80" cy="958.00" rx="6.2" ry="4.4" fill="#d9d9d9"/>
<ellipse cx="1178.80" cy="958.00" rx="6.2" ry="4.4" fill="#d9d9d9"/>
<ellipse cx="1204.80" cy="958.00" rx="5.5" ry="3.9000000000000004" fill="#d9d9d9"/>
<ellipse cx="1230.80" cy="958.00" rx="6.2" ry="4.4" fill="#d9d9d9"/>
<ellipse cx="1256.80" cy="958.00" rx="6.2" ry="4.4" fill="#d9d9d9"/>
<ellipse cx="1282.80" cy="958.00" rx="6.2" ry="4.4" fill="#d9d9d9"/>
<ellipse cx="1308.80" cy="958.00" rx="6.2" ry="4.4" fill="#d9d9d9"/>
<ellipse cx="1334.80" cy="958.00" rx="6.2" ry="4.4" fill="#d9d9d9"/>
<ellipse cx="1360.80" cy="958.00" rx="6.2" ry="4.4" fill="#d9d9d9"/>
<ellipse cx="1386.80" cy="958.00" rx="6.2" ry="4.4" fill="#d9d9d9"/>
<ellipse cx="892.80" cy="983.80" rx="6.2" ry="4.4" fill="#d9d9d9"/>
<ellipse cx="918.80" cy="983.80" rx="6.2" ry="4.4" fill="#d9d9d9"/>
<ellipse cx="944.80" cy="983.80" rx="6.2" ry="4.4" fill="#d9d9d9"/>
<ellipse cx="970.80" cy="983.80" rx="6.2" ry="4.4" fill="#d9d9d9"/>
<ellipse cx="996.80" cy="983.80" rx="6.2" ry="4.4" fill="#d9d9d9"/>
<rect x="1009.45" y="974.10" width="25.70" height="19.40" fill="#fbe5d6" stroke="#f8cbad" stroke-width="2.6"/>
<text x="1022.30" y="990.96" font-family="Liberation Sans, Arial, sans-serif" font-size="20" text-anchor="middle" font-weight="bold" fill="#c00000">G</text>
<ellipse cx="1048.80" cy="983.80" rx="6.2" ry="4.4" fill="#d9d9d9"/>
<ellipse cx="1074.80" cy="983.80" rx="6.2" ry="4.4" fill="#d9d9d9"/>
<ellipse cx="1100.80" cy="983.80" rx="5.5" ry="3.9000000000000004" fill="#d9d9d9"/>
<ellipse cx="1126.80" cy="983.80" rx="6.2" ry="4.4" fill="#d9d9d9"/>
<ellipse cx="1152.80" cy="983.80" rx="6.2" ry="4.4" fill="#d9d9d9"/>
<ellipse cx="1178.80" cy="983.80" rx="6.2" ry="4.4" fill="#d9d9d9"/>
<rect x="1191.45" y="974.10" width="25.70" height="19.40" fill="#e7e7e7" stroke="#c9c9c9" stroke-width="2.6"/>
<text x="1204.30" y="990.96" font-family="Liberation Sans, Arial, sans-serif" font-size="20" text-anchor="middle" font-weight="bold" fill="#7f7f7f">G</text>
<ellipse cx="1230.80" cy="983.80" rx="6.2" ry="4.4" fill="#d9d9d9"/>
<ellipse cx="1256.80" cy="983.80" rx="6.2" ry="4.4" fill="#d9d9d9"/>
<ellipse cx="1282.80" cy="983.80" rx="6.2" ry="4.4" fill="#d9d9d9"/>
<ellipse cx="1308.80" cy="983.80" rx="6.2" ry="4.4" fill="#d9d9d9"/>
<ellipse cx="1334.80" cy="983.80" rx="6.2" ry="4.4" fill="#d9d9d9"/>
<ellipse cx="1360.80" cy="983.80" rx="6.2" ry="4.4" fill="#d9d9d9"/>
<ellipse cx="1386.80" cy="983.80" rx="6.2" ry="4.4" fill="#d9d9d9"/>
<ellipse cx="892.80" cy="1009.60" rx="6.2" ry="4.4" fill="#d9d9d9"/>
<ellipse cx="918.80" cy="1009.60" rx="6.2" ry="4.4" fill="#d9d9d9"/>
<ellipse cx="944.80" cy="1009.60" rx="6.2" ry="4.4" fill="#d9d9d9"/>
<ellipse cx="970.80" cy="1009.60" rx="6.2" ry="4.4" fill="#d9d9d9"/>
<ellipse cx="996.80" cy="1009.60" rx="6.2" ry="4.4" fill="#d9d9d9"/>
<rect x="1009.45" y="999.90" width="25.70" height="19.40" fill="#fbe5d6" stroke="#f8cbad" stroke-width="2.6"/>
<text x="1022.30" y="1016.76" font-family="Liberation Sans, Arial, sans-serif" font-size="20" text-anchor="middle" font-weight="bold" fill="#c00000">G</text>
<ellipse cx="1048.80" cy="1009.60" rx="6.2" ry="4.4" fill="#d9d9d9"/>
<ellipse cx="1074.80" cy="1009.60" rx="6.2" ry="4.4" fill="#d9d9d9"/>
<rect x="1087.45" y="999.90" width="25.70" height="19.40" fill="#e7e7e7" stroke="#c9c9c9" stroke-width="2.6"/>
<text x="1100.30" y="1016.76" font-family="Liberation Sans, Arial, sans-serif" font-size="20" text-anchor="middle" font-weight="bold" fill="#7f7f7f">G</text>
<ellipse cx="1126.80" cy="1009.60" rx="6.2" ry="4.4" fill="#d9d9d9"/>
<ellipse cx="1152.80" cy="1009.60" rx="6.2" ry="4.4" fill="#d9d9d9"/>
<ellipse cx="1178.80" cy="1009.60" rx="6.2" ry="4.4" fill="#d9d9d9"/>
<rect x="1191.45" y="999.90" width="25.70" height="19.40" fill="#e7e7e7" stroke="#c9c9c9" stroke-width="2.6"/>
<text x="1204.30" y="1016.76" font-family="Liberation Sans, Arial, sans-serif" font-size="20" text-anchor="middle" font-weight="bold" fill="#7f7f7f">G</text>
<ellipse cx="1230.80" cy="1009.60" rx="6.2" ry="4.4" fill="#d9d9d9"/>
<ellipse cx="1256.80" cy="1009.60" rx="6.2" ry="4.4" fill="#d9d9d9"/>
<ellipse cx="1282.80" cy="1009.60" rx="6.2" ry="4.4" fill="#d9d9d9"/>
<ellipse cx="1308.80" cy="1009.60" rx="6.2" ry="4.4" fill="#d9d9d9"/>
<ellipse cx="1334.80" cy="1009.60" rx="6.2" ry="4.4" fill="#d9d9d9"/>
<ellipse cx="1360.80" cy="1009.60" rx="6.2" ry="4.4" fill="#d9d9d9"/>
<ellipse cx="1386.80" cy="1009.60" rx="6.2" ry="4.4" fill="#d9d9d9"/>
<ellipse cx="892.80" cy="1035.40" rx="6.2" ry="4.4" fill="#d9d9d9"/>
<ellipse cx="918.80" cy="1035.40" rx="6.2" ry="4.4" fill="#d9d9d9"/>
<ellipse cx="944.80" cy="1035.40" rx="6.2" ry="4.4" fill="#d9d9d9"/>
<ellipse cx="970.80" cy="1035.40" rx="6.2" ry="4.4" fill="#d9d9d9"/>
<ellipse cx="996.80" cy="1035.40" rx="6.2" ry="4.4" fill="#d9d9d9"/>
<rect x="1009.45" y="1025.70" width="25.70" height="19.40" fill="#fbe5d6" stroke="#f8cbad" stroke-width="2.6"/>
<text x="1022.30" y="1042.56" font-family="Liberation Sans, Arial, sans-serif" font-size="20" text-anchor="middle" font-weight="bold" fill="#c00000">G</text>
<ellipse cx="1048.80" cy="1035.40" rx="6.2" ry="4.4" fill="#d9d9d9"/>
<ellipse cx="1074.80" cy="1035.40" rx="6.2" ry="4.4" fill="#d9d9d9"/>
<rect x="1087.45" y="1025.70" width="25.70" height="19.40" fill="#e7e7e7" stroke="#c9c9c9" stroke-width="2.6"/>
<text x="1100.30" y="1042.56" font-family="Liberation Sans, Arial, sans-serif" font-size="20" text-anchor="middle" font-weight="bold" fill="#7f7f7f">G</text>
<ellipse cx="1126.80" cy="1035.40" rx="6.2" ry="4.4" fill="#d9d9d9"/>
<ellipse cx="1152.80" cy="1035.40" rx="6.2" ry="4.4" fill="#d9d9d9"/>
<ellipse cx="1178.80" cy="1035.40" rx="6.2" ry="4.4" fill="#d9d9d9"/>
<ellipse cx="1204.80" cy="1035.40" rx="5.5" ry="3.9000000000000004" fill="#d9d9d9"/>
<ellipse cx="1230.80" cy="1035.40" rx="6.2" ry="4.4" fill="#d9d9d9"/>
<ellipse cx="1256.80" cy="1035.40" rx="6.2" ry="4.4" fill="#d9d9d9"/>
<ellipse cx="1282.80" cy="1035.40" rx="6.2" ry="4.4" fill="#d9d9d9"/>
<ellipse cx="1308.80" cy="1035.40" rx="6.2" ry="4.4" fill="#d9d9d9"/>
<ellipse cx="1334.80" cy="1035.40" rx="6.2" ry="4.4" fill="#d9d9d9"/>
<ellipse cx="1360.80" cy="1035.40" rx="6.2" ry="4.4" fill="#d9d9d9"/>
<ellipse cx="1386.80" cy="1035.40" rx="6.2" ry="4.4" fill="#d9d9d9"/>
<path d="M1416.3,1051.3 L1416.3,745.8 L1740,745.8" stroke="#000" stroke-width="2.5" fill="none"/>
<line x1="1416.30" y1="777.40" x2="1429.80" y2="777.40" stroke="#000" stroke-width="2.5"/>
<line x1="1416.30" y1="803.20" x2="1429.80" y2="803.20" stroke="#000" stroke-width="2.5"/>
<line x1="1416.30" y1="829.00" x2="1429.80" y2="829.00" stroke="#000" stroke-width="2.5"/>
<line x1="1416.30" y1="854.80" x2="1429.80" y2="854.80" stroke="#000" stroke-width="2.5"/>
<line x1="1416.30" y1="880.60" x2="1429.80" y2="880.60" stroke="#000" stroke-width="2.5"/>
<line x1="1416.30" y1="906.40" x2="1429.80" y2="906.40" stroke="#000" stroke-width="2.5"/>
<line x1="1416.30" y1="932.20" x2="1429.80" y2="932.20" stroke="#000" stroke-width="2.5"/>
<line x1="1416.30" y1="958.00" x2="1429.80" y2="958.00" stroke="#000" stroke-width="2.5"/>
<line x1="1416.30" y1="983.80" x2="1429.80" y2="983.80" stroke="#000" stroke-width="2.5"/>
<line x1="1416.30" y1="1009.60" x2="1429.80" y2="1009.60" stroke="#000" stroke-width="2.5"/>
<line x1="1416.30" y1="1035.40" x2="1429.80" y2="1035.40" stroke="#000" stroke-width="2.5"/>
<line x1="1486.40" y1="745.80" x2="1498.80" y2="735.30" stroke="#000" stroke-width="2.5"/>
<line x1="1572.50" y1="745.80" x2="1584.90" y2="735.30" stroke="#000" stroke-width="2.5"/>
<line x1="1667.50" y1="745.80" x2="1679.90" y2="735.30" stroke="#000" stroke-width="2.5"/>
<text x="1475.40" y="729.90" font-family="Liberation Sans, Arial, sans-serif" font-size="16.3" letter-spacing="0.065" fill="#000">ABE8e</text>
<text x="1565.30" y="729.90" font-family="Liberation Sans, Arial, sans-serif" font-size="16.3" letter-spacing="0.129" fill="#000">ABE9</text>
<text x="1654.20" y="713.40" font-family="Liberation Sans, Arial, sans-serif" font-size="16.3" letter-spacing="0.191" fill="#000">PNLM-</text>
<text x="1654.52" y="732.00" font-family="Liberation Sans, Arial, sans-serif" font-size="16.3" letter-spacing="0.208" fill="#000">pcABE</text>
<rect x="1527.00" y="768.20" width="200.60" height="18.40" fill="#fce4d6"/>
<rect x="1617.90" y="845.60" width="109.70" height="18.40" fill="#dae3f3"/>
<rect x="1438.30" y="794.00" width="109.70" height="18.40" fill="#dae3f3"/>
<rect x="1438.30" y="819.80" width="109.70" height="18.40" fill="#dae3f3"/>
<rect x="1438.30" y="845.60" width="109.70" height="18.40" fill="#dae3f3"/>
<rect x="1438.30" y="871.40" width="109.70" height="18.40" fill="#dae3f3"/>
<rect x="1438.30" y="897.20" width="109.70" height="18.40" fill="#dae3f3"/>
<text x="1493.30" y="783.50" font-family="Liberation Sans, Arial, sans-serif" font-size="16.2" text-anchor="middle" fill="#bfbfbf" letter-spacing="0.15">&lt; 1%</text>
<text x="1493.30" y="809.30" font-family="Liberation Sans, Arial, sans-serif" font-size="16.2" text-anchor="middle" fill="#000" letter-spacing="0.15">36.4%</text>
<text x="1493.30" y="835.10" font-family="Liberation Sans, Arial, sans-serif" font-size="16.2" text-anchor="middle" fill="#000" letter-spacing="0.15">14.5%</text>
<text x="1493.30" y="860.90" font-family="Liberation Sans, Arial, sans-serif" font-size="16.2" text-anchor="middle" fill="#000" letter-spacing="0.15">6.1%</text>
<text x="1493.30" y="886.70" font-family="Liberation Sans, Arial, sans-serif" font-size="16.2" text-anchor="middle" fill="#000" letter-spacing="0.15">4.8%</text>
<text x="1493.30" y="912.50" font-family="Liberation Sans, Arial, sans-serif" font-size="16.2" text-anchor="middle" fill="#000" letter-spacing="0.15">1.5%</text>
<text x="1493.30" y="938.30" font-family="Liberation Sans, Arial, sans-serif" font-size="16.2" text-anchor="middle" fill="#bfbfbf" letter-spacing="0.15">&lt; 1%</text>
<text x="1493.30" y="964.10" font-family="Liberation Sans, Arial, sans-serif" font-size="16.2" text-anchor="middle" fill="#bfbfbf" letter-spacing="0.15">&lt; 1%</text>
<text x="1493.30" y="989.90" font-family="Liberation Sans, Arial, sans-serif" font-size="16.2" text-anchor="middle" fill="#000" letter-spacing="0.15">9.1%</text>
<text x="1493.30" y="1015.70" font-family="Liberation Sans, Arial, sans-serif" font-size="16.2" text-anchor="middle" fill="#000" letter-spacing="0.15">1.8%</text>
<text x="1493.30" y="1041.50" font-family="Liberation Sans, Arial, sans-serif" font-size="16.2" text-anchor="middle" fill="#000" letter-spacing="0.15">1.7%</text>
<text x="1581.80" y="783.50" font-family="Liberation Sans, Arial, sans-serif" font-size="16.2" text-anchor="middle" fill="#000" letter-spacing="0.15">6.67%</text>
<text x="1672.60" y="783.50" font-family="Liberation Sans, Arial, sans-serif" font-size="16.2" text-anchor="middle" fill="#000" letter-spacing="0.15">76.1%</text>
<text x="1581.80" y="809.30" font-family="Liberation Sans, Arial, sans-serif" font-size="16.2" text-anchor="middle" fill="#bfbfbf" letter-spacing="0.15">n.s.</text>
<text x="1672.60" y="809.30" font-family="Liberation Sans, Arial, sans-serif" font-size="16.2" text-anchor="middle" fill="#bfbfbf" letter-spacing="0.15">n.s.</text>
<text x="1581.80" y="835.10" font-family="Liberation Sans, Arial, sans-serif" font-size="16.2" text-anchor="middle" fill="#bfbfbf" letter-spacing="0.15">n.s.</text>
<text x="1672.60" y="835.10" font-family="Liberation Sans, Arial, sans-serif" font-size="16.2" text-anchor="middle" fill="#bfbfbf" letter-spacing="0.15">n.s.</text>
<text x="1581.80" y="860.90" font-family="Liberation Sans, Arial, sans-serif" font-size="16.2" text-anchor="middle" fill="#bfbfbf" letter-spacing="0.15">n.s.</text>
<text x="1672.60" y="860.90" font-family="Liberation Sans, Arial, sans-serif" font-size="16.2" text-anchor="middle" fill="#000" letter-spacing="0.15">6.5%</text>
<text x="1581.80" y="886.70" font-family="Liberation Sans, Arial, sans-serif" font-size="16.2" text-anchor="middle" fill="#bfbfbf" letter-spacing="0.15">n.s.</text>
<text x="1672.60" y="886.70" font-family="Liberation Sans, Arial, sans-serif" font-size="16.2" text-anchor="middle" fill="#bfbfbf" letter-spacing="0.15">n.s.</text>
<text x="1581.80" y="912.50" font-family="Liberation Sans, Arial, sans-serif" font-size="16.2" text-anchor="middle" fill="#bfbfbf" letter-spacing="0.15">n.s.</text>
<text x="1672.60" y="912.50" font-family="Liberation Sans, Arial, sans-serif" font-size="16.2" text-anchor="middle" fill="#bfbfbf" letter-spacing="0.15">n.s.</text>
<text x="1581.80" y="938.30" font-family="Liberation Sans, Arial, sans-serif" font-size="16.2" text-anchor="middle" fill="#bfbfbf" letter-spacing="0.15">n.s.</text>
<text x="1672.60" y="938.30" font-family="Liberation Sans, Arial, sans-serif" font-size="16.2" text-anchor="middle" fill="#bfbfbf" letter-spacing="0.15">n.s.</text>
<text x="1581.80" y="964.10" font-family="Liberation Sans, Arial, sans-serif" font-size="16.2" text-anchor="middle" fill="#bfbfbf" letter-spacing="0.15">n.s.</text>
<text x="1672.60" y="964.10" font-family="Liberation Sans, Arial, sans-serif" font-size="16.2" text-anchor="middle" fill="#bfbfbf" letter-spacing="0.15">n.s.</text>
<text x="1581.80" y="989.90" font-family="Liberation Sans, Arial, sans-serif" font-size="16.2" text-anchor="middle" fill="#bfbfbf" letter-spacing="0.15">n.s.</text>
<text x="1672.60" y="989.90" font-family="Liberation Sans, Arial, sans-serif" font-size="16.2" text-anchor="middle" fill="#bfbfbf" letter-spacing="0.15">n.s.</text>
<text x="1581.80" y="1015.70" font-family="Liberation Sans, Arial, sans-serif" font-size="16.2" text-anchor="middle" fill="#bfbfbf" letter-spacing="0.15">n.s.</text>
<text x="1672.60" y="1015.70" font-family="Liberation Sans, Arial, sans-serif" font-size="16.2" text-anchor="middle" fill="#bfbfbf" letter-spacing="0.15">n.s.</text>
<text x="1581.80" y="1041.50" font-family="Liberation Sans, Arial, sans-serif" font-size="16.2" text-anchor="middle" fill="#bfbfbf" letter-spacing="0.15">n.s.</text>
<text x="1672.60" y="1041.50" font-family="Liberation Sans, Arial, sans-serif" font-size="16.2" text-anchor="middle" fill="#bfbfbf" letter-spacing="0.15">&lt; 1%</text>
<text x="1.10" y="1134.80" font-family="Liberation Sans, Arial, sans-serif" font-size="48.5" font-weight="bold" fill="#000">c</text>
<rect x="329.20" y="1106.20" width="28.00" height="22.50" fill="#ffbfdf"/>
<text x="373.00" y="1128.00" font-family="Liberation Sans, Arial, sans-serif" font-size="28.3" letter-spacing="0.330" fill="#000">ABE8e</text>
<rect x="512.20" y="1106.20" width="28.00" height="22.50" fill="#93c1e1"/>
<text x="556.00" y="1128.00" font-family="Liberation Sans, Arial, sans-serif" font-size="28.45" letter-spacing="0.364" fill="#000">ABE9</text>
<rect x="673.00" y="1106.20" width="28.00" height="22.50" fill="#8781bd"/>
<text x="714.73" y="1128.00" font-family="Liberation Sans, Arial, sans-serif" font-size="28.4" letter-spacing="0.291" fill="#000">PNLM-pcABE</text>
<rect x="372.70" y="1578.80" width="48.10" height="4.30" fill="#ffbfdf"/>
<rect x="444.80" y="1470.00" width="48.40" height="113.10" fill="#93c1e1"/>
<rect x="517.10" y="1407.80" width="48.40" height="175.30" fill="#8781bd"/>
<rect x="517.10" y="1336.80" width="48.40" height="43.80" fill="#8781bd"/>
<rect x="709.90" y="1567.80" width="48.70" height="15.30" fill="#93c1e1"/>
<rect x="782.20" y="1565.40" width="48.70" height="17.70" fill="#8781bd"/>
<rect x="637.50" y="1581.20" width="48.00" height="1.50" fill="#ffbfdf"/>
<line x1="348.50" y1="1204.20" x2="348.50" y2="1380.50" stroke="#000" stroke-width="3.0"/>
<line x1="348.50" y1="1409.00" x2="348.50" y2="1584.60" stroke="#000" stroke-width="3.0"/>
<line x1="337.30" y1="1583.10" x2="856.20" y2="1583.10" stroke="#000" stroke-width="3.0"/>
<line x1="337.30" y1="1205.60" x2="348.50" y2="1205.60" stroke="#000" stroke-width="3.0"/>
<text x="271.54" y="1216.40" font-family="Liberation Sans, Arial, sans-serif" font-size="28.8" letter-spacing="-0.404" fill="#000">1000</text>
<line x1="337.30" y1="1249.00" x2="348.50" y2="1249.00" stroke="#000" stroke-width="3.0"/>
<text x="286.35" y="1259.80" font-family="Liberation Sans, Arial, sans-serif" font-size="28.8" letter-spacing="0.054" fill="#000">800</text>
<line x1="337.30" y1="1292.60" x2="348.50" y2="1292.60" stroke="#000" stroke-width="3.0"/>
<text x="286.06" y="1303.40" font-family="Liberation Sans, Arial, sans-serif" font-size="28.8" letter-spacing="0.198" fill="#000">600</text>
<line x1="337.30" y1="1336.30" x2="348.50" y2="1336.30" stroke="#000" stroke-width="3.0"/>
<text x="286.92" y="1347.10" font-family="Liberation Sans, Arial, sans-serif" font-size="28.8" letter-spacing="-0.234" fill="#000">400</text>
<line x1="342.20" y1="1380.50" x2="355.00" y2="1380.50" stroke="#000" stroke-width="3.0"/>
<text x="286.06" y="1391.30" font-family="Liberation Sans, Arial, sans-serif" font-size="28.8" letter-spacing="0.198" fill="#000">200</text>
<line x1="342.20" y1="1409.00" x2="355.00" y2="1409.00" stroke="#000" stroke-width="3.0"/>
<text x="287.24" y="1419.80" font-family="Liberation Sans, Arial, sans-serif" font-size="28.8" letter-spacing="-0.392" fill="#000">120</text>
<line x1="337.30" y1="1467.00" x2="348.50" y2="1467.00" stroke="#000" stroke-width="3.0"/>
<text x="301.85" y="1477.80" font-family="Liberation Sans, Arial, sans-serif" font-size="28.8" letter-spacing="0.592" fill="#000">80</text>
<line x1="337.30" y1="1524.60" x2="348.50" y2="1524.60" stroke="#000" stroke-width="3.0"/>
<text x="302.42" y="1535.40" font-family="Liberation Sans, Arial, sans-serif" font-size="28.8" letter-spacing="0.016" fill="#000">40</text>
<line x1="337.30" y1="1583.10" x2="348.50" y2="1583.10" stroke="#000" stroke-width="3.0"/>
<text x="318.59" y="1593.90" font-family="Liberation Sans, Arial, sans-serif" font-size="28.8" fill="#000">0</text>
<line x1="469.00" y1="1583.10" x2="469.00" y2="1594.80" stroke="#000" stroke-width="3.0"/>
<line x1="733.50" y1="1583.10" x2="733.50" y2="1594.80" stroke="#000" stroke-width="3.0"/>
<text transform="translate(248.10,1508.98) rotate(-90)" font-family="Liberation Sans, Arial, sans-serif" font-size="29.8" letter-spacing="0.284" fill="#000">Normalized precision</text>
<text x="431.11" y="1624.60" font-family="Liberation Sans, Arial, sans-serif" font-size="28.6" font-weight="bold" font-style="italic" letter-spacing="0.165" fill="#000">GALT</text>
<text x="704.51" y="1624.60" font-family="Liberation Sans, Arial, sans-serif" font-size="28.6" font-weight="bold" font-style="italic" letter-spacing="-0.194" fill="#000">OTC</text>
<line x1="383.00" y1="1578.80" x2="411.00" y2="1578.80" stroke="#000" stroke-width="1.6"/>
<circle cx="386.50" cy="1578.80" r="2.7" fill="none" stroke="#000" stroke-width="1.5"/>
<circle cx="396.40" cy="1578.80" r="2.7" fill="none" stroke="#000" stroke-width="1.5"/>
<circle cx="406.80" cy="1578.80" r="2.7" fill="none" stroke="#000" stroke-width="1.5"/>
<path d="M469.00,1435.80 L469.00,1503.80 M457.00,1435.80 L481.00,1435.80 M457.00,1503.80 L481.00,1503.80" stroke="#000" stroke-width="1.6" fill="none"/>
<circle cx="469.00" cy="1430.90" r="2.7" fill="none" stroke="#000" stroke-width="1.5"/>
<circle cx="463.50" cy="1490.60" r="2.7" fill="none" stroke="#000" stroke-width="1.5"/>
<circle cx="474.20" cy="1488.90" r="2.7" fill="none" stroke="#000" stroke-width="1.5"/>
<path d="M541.3,1262.3 L541.3,1381.5 M541.3,1407.8 L541.3,1501.6 M529.3,1262.3 L553.3,1262.3 M529.3,1501.6 L553.3,1501.6" stroke="#000" stroke-width="1.6" fill="none"/>
<circle cx="541.30" cy="1259.80" r="2.7" fill="none" stroke="#000" stroke-width="1.5"/>
<circle cx="541.30" cy="1341.50" r="2.7" fill="none" stroke="#000" stroke-width="1.5"/>
<circle cx="541.30" cy="1487.30" r="2.7" fill="none" stroke="#000" stroke-width="1.5"/>
<circle cx="651.60" cy="1581.40" r="2.7" fill="none" stroke="#000" stroke-width="1.5"/>
<circle cx="661.80" cy="1581.40" r="2.7" fill="none" stroke="#000" stroke-width="1.5"/>
<circle cx="672.20" cy="1581.40" r="2.7" fill="none" stroke="#000" stroke-width="1.5"/>
<path d="M733.50,1562.30 L733.50,1572.80 M721.50,1562.30 L745.50,1562.30 M721.50,1572.80 L745.50,1572.80" stroke="#000" stroke-width="1.6" fill="none"/>
<circle cx="728.60" cy="1564.80" r="2.7" fill="none" stroke="#000" stroke-width="1.5"/>
<circle cx="739.00" cy="1564.80" r="2.7" fill="none" stroke="#000" stroke-width="1.5"/>
<circle cx="733.80" cy="1573.90" r="2.7" fill="none" stroke="#000" stroke-width="1.5"/>
<path d="M806.50,1564.30 L806.50,1567.80 M794.00,1564.30 L819.00,1564.30 M794.00,1567.80 L819.00,1567.80" stroke="#000" stroke-width="1.6" fill="none"/>
<circle cx="796.50" cy="1567.60" r="2.7" fill="none" stroke="#000" stroke-width="1.5"/>
<circle cx="806.70" cy="1562.30" r="2.7" fill="none" stroke="#000" stroke-width="1.5"/>
<circle cx="817.20" cy="1566.50" r="2.7" fill="none" stroke="#000" stroke-width="1.5"/>
<line x1="395.50" y1="1222.40" x2="546.50" y2="1222.40" stroke="#000" stroke-width="2.6"/>
<text x="439.00" y="1209.50" font-family="Liberation Sans, Arial, sans-serif" font-size="21.3" letter-spacing="0.121" fill="#000">133.5x</text>
<line x1="395.50" y1="1403.70" x2="470.90" y2="1403.70" stroke="#000" stroke-width="2.6"/>
<text x="406.04" y="1390.50" font-family="Liberation Sans, Arial, sans-serif" font-size="21.3" letter-spacing="0.300" fill="#000">26.1x</text>
<line x1="659.00" y1="1454.30" x2="809.50" y2="1454.30" stroke="#000" stroke-width="2.6"/>
<text x="707.70" y="1441.90" font-family="Liberation Sans, Arial, sans-serif" font-size="21.3" letter-spacing="0.158" fill="#000">10.3x</text>
<line x1="667.30" y1="1531.50" x2="740.70" y2="1531.50" stroke="#000" stroke-width="2.6"/>
<text x="692.44" y="1518.30" font-family="Liberation Sans, Arial, sans-serif" font-size="21.3" letter-spacing="0.700" fill="#000">9x</text>
<text x="-0.44" y="1695.00" font-family="Liberation Sans, Arial, sans-serif" font-size="48.5" font-weight="bold" fill="#000">d</text>
<path d="M412.52,1851.09 L412.52,1694.89 A156.2,156.2 0 0 1 445.15,2003.84 Z" fill="#acdfac" stroke="#000" stroke-width="1.1" stroke-linejoin="round"/>
<path d="M406.25,1851.75 L438.89,2004.50 A156.2,156.2 0 0 1 278.23,1941.24 Z" fill="#92c0f9" stroke="#000" stroke-width="1.1" stroke-linejoin="round"/>
<path d="M406.25,1851.75 L278.23,1941.24 A156.2,156.2 0 0 1 250.17,1845.67 Z" fill="#8b8fcf" stroke="#000" stroke-width="1.1" stroke-linejoin="round"/>
<path d="M406.25,1851.75 L250.17,1845.67 A156.2,156.2 0 0 1 286.08,1751.96 Z" fill="#ebe5cb" stroke="#000" stroke-width="1.1" stroke-linejoin="round"/>
<path d="M406.25,1851.75 L286.08,1751.96 A156.2,156.2 0 0 1 351.68,1705.39 Z" fill="#ff9f9f" stroke="#000" stroke-width="1.1" stroke-linejoin="round"/>
<path d="M406.25,1851.75 L351.68,1705.39 A156.2,156.2 0 0 1 406.25,1695.55 Z" fill="#ffbf7f" stroke="#000" stroke-width="1.1" stroke-linejoin="round"/>
<text x="478.31" y="1847.50" font-family="Liberation Sans, Arial, sans-serif" font-size="22" letter-spacing="0.054" fill="#000">46.65%</text>
<text x="327.85" y="1966.25" font-family="Liberation Sans, Arial, sans-serif" font-size="22" letter-spacing="0.046" fill="#000">18.64%</text>
<text x="264.10" y="1894.50" font-family="Liberation Sans, Arial, sans-serif" font-size="22" fill="#000">10.33%</text>
<text x="265.35" y="1823.00" font-family="Liberation Sans, Arial, sans-serif" font-size="22" letter-spacing="0.046" fill="#000">10.41%</text>
<text x="302.37" y="1760.00" font-family="Liberation Sans, Arial, sans-serif" font-size="22" letter-spacing="0.445" fill="#000">8.29%</text>
<text x="359.29" y="1726.25" font-family="Liberation Sans, Arial, sans-serif" font-size="17.8" letter-spacing="0.218" fill="#000">5.68%</text>
<text x="346.36" y="2041.75" font-family="Liberation Sans, Arial, sans-serif" font-size="25.3" letter-spacing="0.255" fill="#000">94278 total</text>
<rect x="596.50" y="1736.30" width="28.50" height="13.40" fill="#acdfac" stroke="#3a3a3a" stroke-width="1.1"/>
<text x="641.40" y="1751.00" font-family="Liberation Sans, Arial, sans-serif" font-size="22" fill="#000">G•C</text>
<text transform="translate(676.40,1749.10) scale(1.58,1.15)" font-family="Liberation Sans, Arial, sans-serif" font-size="22" fill="#000">→</text>
<text x="705.30" y="1751.00" font-family="Liberation Sans, Arial, sans-serif" font-size="22" fill="#000">A•T</text>
<rect x="596.50" y="1780.80" width="28.50" height="13.40" fill="#92c0f9" stroke="#3a3a3a" stroke-width="1.1"/>
<text x="641.40" y="1795.00" font-family="Liberation Sans, Arial, sans-serif" font-size="22" fill="#000">C•G</text>
<text transform="translate(676.40,1793.10) scale(1.58,1.15)" font-family="Liberation Sans, Arial, sans-serif" font-size="22" fill="#000">→</text>
<text x="705.30" y="1795.00" font-family="Liberation Sans, Arial, sans-serif" font-size="22" fill="#000">A•T</text>
<rect x="596.50" y="1825.10" width="28.50" height="13.40" fill="#8b8fcf" stroke="#3a3a3a" stroke-width="1.1"/>
<text x="642.06" y="1839.70" font-family="Liberation Sans, Arial, sans-serif" font-size="22" fill="#000">T•A</text>
<text transform="translate(670.90,1837.80) scale(1.58,1.15)" font-family="Liberation Sans, Arial, sans-serif" font-size="22" fill="#000">→</text>
<text x="699.90" y="1839.70" font-family="Liberation Sans, Arial, sans-serif" font-size="22" fill="#000">C•G</text>
<rect x="596.50" y="1869.80" width="28.50" height="13.40" fill="#ebe5cb" stroke="#3a3a3a" stroke-width="1.1"/>
<text x="641.40" y="1884.70" font-family="Liberation Sans, Arial, sans-serif" font-size="22" fill="#000">G•C</text>
<text transform="translate(676.40,1882.80) scale(1.58,1.15)" font-family="Liberation Sans, Arial, sans-serif" font-size="22" fill="#000">→</text>
<text x="704.90" y="1884.70" font-family="Liberation Sans, Arial, sans-serif" font-size="22" fill="#000">C•G</text>
<rect x="596.50" y="1913.90" width="28.50" height="13.40" fill="#ff9f9f" stroke="#3a3a3a" stroke-width="1.1"/>
<text x="642.50" y="1929.00" font-family="Liberation Sans, Arial, sans-serif" font-size="22" fill="#000">A•T</text>
<text transform="translate(671.30,1927.10) scale(1.58,1.15)" font-family="Liberation Sans, Arial, sans-serif" font-size="22" fill="#000">→</text>
<text x="700.16" y="1929.00" font-family="Liberation Sans, Arial, sans-serif" font-size="22" fill="#000">T•A</text>
<rect x="596.50" y="1958.50" width="28.50" height="13.40" fill="#ffbf7f" stroke="#3a3a3a" stroke-width="1.1"/>
<text x="642.50" y="1973.80" font-family="Liberation Sans, Arial, sans-serif" font-size="22" fill="#000">A•T</text>
<text transform="translate(671.30,1971.90) scale(1.58,1.15)" font-family="Liberation Sans, Arial, sans-serif" font-size="22" fill="#000">→</text>
<text x="699.90" y="1973.80" font-family="Liberation Sans, Arial, sans-serif" font-size="22" fill="#000">C•G</text>
<line x1="949.50" y1="1812.50" x2="949.50" y2="1839.00" stroke="#c3c3c3" stroke-width="3.1"/>
<line x1="949.50" y1="1843.00" x2="949.50" y2="1870.00" stroke="#c3c3c3" stroke-width="3.1"/>
<line x1="968.52" y1="1812.50" x2="968.52" y2="1839.00" stroke="#c3c3c3" stroke-width="3.1"/>
<line x1="968.52" y1="1843.00" x2="968.52" y2="1870.00" stroke="#c3c3c3" stroke-width="3.1"/>
<line x1="987.54" y1="1812.50" x2="987.54" y2="1839.00" stroke="#c3c3c3" stroke-width="3.1"/>
<line x1="987.54" y1="1843.00" x2="987.54" y2="1870.00" stroke="#c3c3c3" stroke-width="3.1"/>
<line x1="1025.58" y1="1812.50" x2="1025.58" y2="1839.00" stroke="#c3c3c3" stroke-width="3.1"/>
<line x1="1025.58" y1="1843.00" x2="1025.58" y2="1870.00" stroke="#c3c3c3" stroke-width="3.1"/>
<line x1="1063.62" y1="1812.50" x2="1063.62" y2="1839.00" stroke="#c3c3c3" stroke-width="3.1"/>
<line x1="1063.62" y1="1843.00" x2="1063.62" y2="1870.00" stroke="#c3c3c3" stroke-width="3.1"/>
<line x1="1082.64" y1="1812.50" x2="1082.64" y2="1839.00" stroke="#c3c3c3" stroke-width="3.1"/>
<line x1="1082.64" y1="1843.00" x2="1082.64" y2="1870.00" stroke="#c3c3c3" stroke-width="3.1"/>
<line x1="1101.66" y1="1812.50" x2="1101.66" y2="1839.00" stroke="#c3c3c3" stroke-width="3.1"/>
<line x1="1101.66" y1="1843.00" x2="1101.66" y2="1870.00" stroke="#c3c3c3" stroke-width="3.1"/>
<line x1="1120.68" y1="1812.50" x2="1120.68" y2="1839.00" stroke="#c3c3c3" stroke-width="3.1"/>
<line x1="1120.68" y1="1843.00" x2="1120.68" y2="1870.00" stroke="#c3c3c3" stroke-width="3.1"/>
<line x1="1139.70" y1="1812.50" x2="1139.70" y2="1839.00" stroke="#c3c3c3" stroke-width="3.1"/>
<line x1="1139.70" y1="1843.00" x2="1139.70" y2="1870.00" stroke="#c3c3c3" stroke-width="3.1"/>
<line x1="1158.72" y1="1812.50" x2="1158.72" y2="1839.00" stroke="#c3c3c3" stroke-width="3.1"/>
<line x1="1158.72" y1="1843.00" x2="1158.72" y2="1870.00" stroke="#c3c3c3" stroke-width="3.1"/>
<line x1="1177.74" y1="1812.50" x2="1177.74" y2="1839.00" stroke="#c3c3c3" stroke-width="3.1"/>
<line x1="1177.74" y1="1843.00" x2="1177.74" y2="1870.00" stroke="#c3c3c3" stroke-width="3.1"/>
<line x1="1196.76" y1="1812.50" x2="1196.76" y2="1839.00" stroke="#c3c3c3" stroke-width="3.1"/>
<line x1="1196.76" y1="1843.00" x2="1196.76" y2="1870.00" stroke="#c3c3c3" stroke-width="3.1"/>
<line x1="1215.78" y1="1812.50" x2="1215.78" y2="1839.00" stroke="#c3c3c3" stroke-width="3.1"/>
<line x1="1215.78" y1="1843.00" x2="1215.78" y2="1870.00" stroke="#c3c3c3" stroke-width="3.1"/>
<line x1="1234.80" y1="1812.50" x2="1234.80" y2="1839.00" stroke="#c3c3c3" stroke-width="3.1"/>
<line x1="1234.80" y1="1843.00" x2="1234.80" y2="1870.00" stroke="#c3c3c3" stroke-width="3.1"/>
<line x1="1253.82" y1="1812.50" x2="1253.82" y2="1839.00" stroke="#c3c3c3" stroke-width="3.1"/>
<line x1="1253.82" y1="1843.00" x2="1253.82" y2="1870.00" stroke="#c3c3c3" stroke-width="3.1"/>
<line x1="1272.84" y1="1812.50" x2="1272.84" y2="1839.00" stroke="#c3c3c3" stroke-width="3.1"/>
<line x1="1272.84" y1="1843.00" x2="1272.84" y2="1870.00" stroke="#c3c3c3" stroke-width="3.1"/>
<line x1="1291.86" y1="1812.50" x2="1291.86" y2="1839.00" stroke="#c3c3c3" stroke-width="3.1"/>
<line x1="1291.86" y1="1843.00" x2="1291.86" y2="1870.00" stroke="#c3c3c3" stroke-width="3.1"/>
<line x1="1310.88" y1="1812.50" x2="1310.88" y2="1839.00" stroke="#c3c3c3" stroke-width="3.1"/>
<line x1="1310.88" y1="1843.00" x2="1310.88" y2="1870.00" stroke="#c3c3c3" stroke-width="3.1"/>
<line x1="1329.90" y1="1812.50" x2="1329.90" y2="1839.00" stroke="#c3c3c3" stroke-width="3.1"/>
<line x1="1329.90" y1="1843.00" x2="1329.90" y2="1870.00" stroke="#c3c3c3" stroke-width="3.1"/>
<line x1="1348.92" y1="1812.50" x2="1348.92" y2="1839.00" stroke="#c3c3c3" stroke-width="3.1"/>
<line x1="1348.92" y1="1843.00" x2="1348.92" y2="1870.00" stroke="#c3c3c3" stroke-width="3.1"/>
<line x1="1367.94" y1="1812.50" x2="1367.94" y2="1839.00" stroke="#c3c3c3" stroke-width="3.1"/>
<line x1="1367.94" y1="1843.00" x2="1367.94" y2="1870.00" stroke="#c3c3c3" stroke-width="3.1"/>
<line x1="930.00" y1="1812.50" x2="1394.00" y2="1812.50" stroke="#c3c3c3" stroke-width="3.3"/>
<line x1="932.00" y1="1870.00" x2="1396.30" y2="1870.00" stroke="#c3c3c3" stroke-width="3.3"/>
<line x1="987.54" y1="1812.50" x2="987.54" y2="1840.00" stroke="#70ad47" stroke-width="5.2"/>
<line x1="1025.58" y1="1812.50" x2="1025.58" y2="1840.00" stroke="#70ad47" stroke-width="5.2"/>
<line x1="1063.62" y1="1812.50" x2="1063.62" y2="1840.00" stroke="#70ad47" stroke-width="5.2"/>
<line x1="1082.64" y1="1812.50" x2="1082.64" y2="1840.00" stroke="#70ad47" stroke-width="5.2"/>
<line x1="1101.66" y1="1812.50" x2="1101.66" y2="1840.00" stroke="#70ad47" stroke-width="5.2"/>
<line x1="970.50" y1="1812.50" x2="1122.00" y2="1812.50" stroke="#70ad47" stroke-width="5.2"/>
<text x="1006.86" y="1839.00" font-family="Liberation Sans, Arial, sans-serif" font-size="26.5" text-anchor="middle" font-weight="bold" fill="#e6475e">A</text>
<text x="1006.86" y="1868.00" font-family="Liberation Sans, Arial, sans-serif" font-size="24.5" text-anchor="middle" font-weight="bold" fill="#e6475e">T</text>
<text x="1044.90" y="1839.00" font-family="Liberation Sans, Arial, sans-serif" font-size="26.5" text-anchor="middle" font-weight="bold" fill="#5b9bd5">A</text>
<text x="1044.90" y="1868.00" font-family="Liberation Sans, Arial, sans-serif" font-size="24.5" text-anchor="middle" font-weight="bold" fill="#5b9bd5">T</text>
<rect x="1322.00" y="1798.50" width="57.30" height="27.00" fill="#8faadc"/>
<text x="1351.00" y="1817.70" font-family="Liberation Sans, Arial, sans-serif" font-size="15.3" text-anchor="middle" font-weight="bold" fill="#fff" letter-spacing="3.2">NGG</text>
<text x="891.50" y="1826.30" font-family="Liberation Sans, Arial, sans-serif" font-size="21.5" font-weight="bold" fill="#595959">5’</text>
<text x="1403.50" y="1822.50" font-family="Liberation Sans, Arial, sans-serif" font-size="21.5" font-weight="bold" fill="#595959">3’</text>
<polygon points="1252.8,1880.5 1271.2,1880.5 1262,1854.5" fill="#afabab"/>
<rect x="952.5" y="1662.5" width="254.5" height="50.0" rx="1.2" fill="none" stroke="#e6475e" stroke-width="4.5" stroke-dasharray="12.6 5.5"/><text x="973.03" y="1696.80" font-family="Liberation Sans, Arial, sans-serif" font-size="24.6" letter-spacing="-0.101" fill="#161b2d">Pathogenic G-to-A</text>
<rect x="1016.3" y="1723" width="255.5" height="50.299999999999955" rx="1.2" fill="none" stroke="#5b9bd5" stroke-width="4.5" stroke-dasharray="12.6 5.5"/><text x="1038.25" y="1757.50" font-family="Liberation Sans, Arial, sans-serif" font-size="24.6" letter-spacing="-0.047" fill="#161b2d">A with potential risk</text>
<line x1="1002" y1="1714.5" x2="1002" y2="1805.8" stroke="#e6475e" stroke-width="3" stroke-dasharray="6 2.6"/><path d="M990.5,1787.8 L1002,1808.8 L1013.5,1787.8" fill="none" stroke="#e6475e" stroke-width="3.3" stroke-linejoin="miter"/>
<line x1="1043.8" y1="1775.3" x2="1043.8" y2="1807" stroke="#5b9bd5" stroke-width="3" stroke-dasharray="6 2.6"/><path d="M1032.3,1789 L1043.8,1810 L1055.3,1789" fill="none" stroke="#5b9bd5" stroke-width="3.3" stroke-linejoin="miter"/>
<text x="1049.40" y="1950.60" font-family="Liberation Sans, Arial, sans-serif" font-size="27.5" letter-spacing="0.287" fill="#404040">or</text>
<line x1="952.50" y1="2043.00" x2="952.50" y2="2069.50" stroke="#c3c3c3" stroke-width="3.1"/>
<line x1="952.50" y1="2073.80" x2="952.50" y2="2100.00" stroke="#c3c3c3" stroke-width="3.1"/>
<line x1="971.51" y1="2043.00" x2="971.51" y2="2069.50" stroke="#c3c3c3" stroke-width="3.1"/>
<line x1="971.51" y1="2073.80" x2="971.51" y2="2100.00" stroke="#c3c3c3" stroke-width="3.1"/>
<line x1="990.52" y1="2043.00" x2="990.52" y2="2069.50" stroke="#c3c3c3" stroke-width="3.1"/>
<line x1="990.52" y1="2073.80" x2="990.52" y2="2100.00" stroke="#c3c3c3" stroke-width="3.1"/>
<line x1="1009.53" y1="2043.00" x2="1009.53" y2="2069.50" stroke="#c3c3c3" stroke-width="3.1"/>
<line x1="1009.53" y1="2073.80" x2="1009.53" y2="2100.00" stroke="#c3c3c3" stroke-width="3.1"/>
<line x1="1028.54" y1="2043.00" x2="1028.54" y2="2069.50" stroke="#c3c3c3" stroke-width="3.1"/>
<line x1="1028.54" y1="2073.80" x2="1028.54" y2="2100.00" stroke="#c3c3c3" stroke-width="3.1"/>
<line x1="1047.55" y1="2043.00" x2="1047.55" y2="2069.50" stroke="#c3c3c3" stroke-width="3.1"/>
<line x1="1047.55" y1="2073.80" x2="1047.55" y2="2100.00" stroke="#c3c3c3" stroke-width="3.1"/>
<line x1="1066.56" y1="2043.00" x2="1066.56" y2="2069.50" stroke="#c3c3c3" stroke-width="3.1"/>
<line x1="1066.56" y1="2073.80" x2="1066.56" y2="2100.00" stroke="#c3c3c3" stroke-width="3.1"/>
<line x1="1085.57" y1="2043.00" x2="1085.57" y2="2069.50" stroke="#c3c3c3" stroke-width="3.1"/>
<line x1="1085.57" y1="2073.80" x2="1085.57" y2="2100.00" stroke="#c3c3c3" stroke-width="3.1"/>
<line x1="1104.58" y1="2043.00" x2="1104.58" y2="2069.50" stroke="#c3c3c3" stroke-width="3.1"/>
<line x1="1104.58" y1="2073.80" x2="1104.58" y2="2100.00" stroke="#c3c3c3" stroke-width="3.1"/>
<line x1="1123.59" y1="2043.00" x2="1123.59" y2="2069.50" stroke="#c3c3c3" stroke-width="3.1"/>
<line x1="1123.59" y1="2073.80" x2="1123.59" y2="2100.00" stroke="#c3c3c3" stroke-width="3.1"/>
<line x1="1142.60" y1="2043.00" x2="1142.60" y2="2069.50" stroke="#c3c3c3" stroke-width="3.1"/>
<line x1="1142.60" y1="2073.80" x2="1142.60" y2="2100.00" stroke="#c3c3c3" stroke-width="3.1"/>
<line x1="1161.61" y1="2043.00" x2="1161.61" y2="2069.50" stroke="#c3c3c3" stroke-width="3.1"/>
<line x1="1161.61" y1="2073.80" x2="1161.61" y2="2100.00" stroke="#c3c3c3" stroke-width="3.1"/>
<line x1="1180.62" y1="2043.00" x2="1180.62" y2="2069.50" stroke="#c3c3c3" stroke-width="3.1"/>
<line x1="1180.62" y1="2073.80" x2="1180.62" y2="2100.00" stroke="#c3c3c3" stroke-width="3.1"/>
<line x1="1199.63" y1="2043.00" x2="1199.63" y2="2069.50" stroke="#c3c3c3" stroke-width="3.1"/>
<line x1="1199.63" y1="2073.80" x2="1199.63" y2="2100.00" stroke="#c3c3c3" stroke-width="3.1"/>
<line x1="1218.64" y1="2043.00" x2="1218.64" y2="2069.50" stroke="#c3c3c3" stroke-width="3.1"/>
<line x1="1218.64" y1="2073.80" x2="1218.64" y2="2100.00" stroke="#c3c3c3" stroke-width="3.1"/>
<line x1="1237.65" y1="2043.00" x2="1237.65" y2="2069.50" stroke="#c3c3c3" stroke-width="3.1"/>
<line x1="1237.65" y1="2073.80" x2="1237.65" y2="2100.00" stroke="#c3c3c3" stroke-width="3.1"/>
<line x1="1256.66" y1="2043.00" x2="1256.66" y2="2069.50" stroke="#c3c3c3" stroke-width="3.1"/>
<line x1="1256.66" y1="2073.80" x2="1256.66" y2="2100.00" stroke="#c3c3c3" stroke-width="3.1"/>
<line x1="1294.68" y1="2043.00" x2="1294.68" y2="2069.50" stroke="#c3c3c3" stroke-width="3.1"/>
<line x1="1294.68" y1="2073.80" x2="1294.68" y2="2100.00" stroke="#c3c3c3" stroke-width="3.1"/>
<line x1="1332.70" y1="2043.00" x2="1332.70" y2="2069.50" stroke="#c3c3c3" stroke-width="3.1"/>
<line x1="1332.70" y1="2073.80" x2="1332.70" y2="2100.00" stroke="#c3c3c3" stroke-width="3.1"/>
<line x1="1351.71" y1="2053.50" x2="1351.71" y2="2071.00" stroke="#c3c3c3" stroke-width="3.1"/>
<line x1="1351.71" y1="2073.80" x2="1351.71" y2="2100.00" stroke="#c3c3c3" stroke-width="3.1"/>
<line x1="1370.72" y1="2053.50" x2="1370.72" y2="2071.00" stroke="#c3c3c3" stroke-width="3.1"/>
<line x1="1370.72" y1="2073.80" x2="1370.72" y2="2100.00" stroke="#c3c3c3" stroke-width="3.1"/>
<line x1="933.00" y1="2043.00" x2="1397.50" y2="2043.00" stroke="#c3c3c3" stroke-width="3.3"/>
<line x1="935.00" y1="2100.00" x2="1400.00" y2="2100.00" stroke="#c3c3c3" stroke-width="3.3"/>
<line x1="1218.64" y1="2073.50" x2="1218.64" y2="2100.00" stroke="#70ad47" stroke-width="5.2"/>
<line x1="1237.65" y1="2073.50" x2="1237.65" y2="2100.00" stroke="#70ad47" stroke-width="5.2"/>
<line x1="1256.66" y1="2073.50" x2="1256.66" y2="2100.00" stroke="#70ad47" stroke-width="5.2"/>
<line x1="1294.68" y1="2073.50" x2="1294.68" y2="2100.00" stroke="#70ad47" stroke-width="5.2"/>
<line x1="1332.70" y1="2073.50" x2="1332.70" y2="2100.00" stroke="#70ad47" stroke-width="5.2"/>
<line x1="1201.80" y1="2100.00" x2="1353.30" y2="2100.00" stroke="#70ad47" stroke-width="5.2"/>
<text x="1275.17" y="2069.50" font-family="Liberation Sans, Arial, sans-serif" font-size="25.5" text-anchor="middle" font-weight="bold" fill="#e6475e">T</text>
<text x="1275.17" y="2099.30" font-family="Liberation Sans, Arial, sans-serif" font-size="26.5" text-anchor="middle" font-weight="bold" fill="#e6475e">A</text>
<text x="1313.19" y="2069.50" font-family="Liberation Sans, Arial, sans-serif" font-size="25.5" text-anchor="middle" font-weight="bold" fill="#5b9bd5">T</text>
<text x="1313.19" y="2099.30" font-family="Liberation Sans, Arial, sans-serif" font-size="26.5" text-anchor="middle" font-weight="bold" fill="#5b9bd5">A</text>
<rect x="944.30" y="2082.00" width="57.30" height="27.30" fill="#8faadc"/>
<text x="973.30" y="2101.30" font-family="Liberation Sans, Arial, sans-serif" font-size="15.3" text-anchor="middle" font-weight="bold" fill="#fff" letter-spacing="3.2">GGN</text>
<text x="895.00" y="2051.30" font-family="Liberation Sans, Arial, sans-serif" font-size="21.5" font-weight="bold" fill="#595959">5’</text>
<text x="1407.00" y="2052.00" font-family="Liberation Sans, Arial, sans-serif" font-size="21.5" font-weight="bold" fill="#595959">3’</text>
<polygon points="1047,2033.8 1065.5,2033.8 1056.3,2060" fill="#afabab"/>
<rect x="1201.3" y="1903.8" width="250.70000000000005" height="50.700000000000045" rx="1.2" fill="none" stroke="#e6475e" stroke-width="4.5" stroke-dasharray="12.6 5.5"/><text x="1223.03" y="1938.80" font-family="Liberation Sans, Arial, sans-serif" font-size="24.6" letter-spacing="-0.104" fill="#161b2d">Pathogenic C-to-T</text>
<rect x="1282.5" y="1967.5" width="255.5" height="50.799999999999955" rx="1.2" fill="none" stroke="#5b9bd5" stroke-width="4.5" stroke-dasharray="12.6 5.5"/><text x="1307.01" y="2002.50" font-family="Liberation Sans, Arial, sans-serif" font-size="24.6" letter-spacing="-0.173" fill="#161b2d">T with potential risk</text>
<line x1="1271.3" y1="1956.5" x2="1271.3" y2="2038.3" stroke="#e6475e" stroke-width="3" stroke-dasharray="6 2.6"/><path d="M1259.8,2020.3 L1271.3,2041.3 L1282.8,2020.3" fill="none" stroke="#e6475e" stroke-width="3.3" stroke-linejoin="miter"/>
<line x1="1312" y1="2020.3" x2="1312" y2="2038.3" stroke="#5b9bd5" stroke-width="3" stroke-dasharray="6 2.6"/><path d="M1300.5,2020.3 L1312,2041.3 L1323.5,2020.3" fill="none" stroke="#5b9bd5" stroke-width="3.3" stroke-linejoin="miter"/>
<defs><clipPath id="v1a"><circle cx="521.7" cy="2249.6" r="121.3"/></clipPath><clipPath id="v1b"><circle cx="686.6" cy="2248.8" r="70.3"/></clipPath></defs>
<circle cx="521.7" cy="2249.6" r="121.3" fill="#cfe5fb"/>
<circle cx="686.6" cy="2248.8" r="70.3" fill="#fcc0df"/>
<circle cx="656.9" cy="2363.8" r="93.6" fill="#c3dfad"/>
<circle cx="686.6" cy="2248.8" r="70.3" fill="#d3a8f3" clip-path="url(#v1a)"/>
<circle cx="656.9" cy="2363.8" r="93.6" fill="#ffe9a6" clip-path="url(#v1a)"/>
<circle cx="656.9" cy="2363.8" r="93.6" fill="#fdd85f" clip-path="url(#v1b)"/>
<g clip-path="url(#v1a)"><circle cx="656.9" cy="2363.8" r="93.6" fill="#8099d3" clip-path="url(#v1b)"/></g>
<circle cx="521.7" cy="2249.6" r="121.3" fill="none" stroke="#6c9fd6" stroke-width="1.3"/>
<circle cx="686.6" cy="2248.8" r="70.3" fill="none" stroke="#f28cba" stroke-width="1.3"/>
<circle cx="656.9" cy="2363.8" r="93.6" fill="none" stroke="#73ab4c" stroke-width="1.3"/>
<text x="459.50" y="2206.30" font-family="Liberation Sans, Arial, sans-serif" font-size="19.89" font-weight="bold" letter-spacing="0.237" fill="#1a1a1a">ABE8e</text>
<text x="470.60" y="2250.00" font-family="Liberation Sans, Arial, sans-serif" font-size="19.93" letter-spacing="0.217" fill="#1a1a1a">4932</text>
<text x="611.68" y="2248.40" font-family="Liberation Sans, Arial, sans-serif" font-size="18.93" letter-spacing="0.227" fill="#1a1a1a">137</text>
<text x="665.76" y="2217.00" font-family="Liberation Sans, Arial, sans-serif" font-size="19.72" font-weight="bold" letter-spacing="0.260" fill="#1a1a1a">ABE9</text>
<text x="671.02" y="2245.30" font-family="Liberation Sans, Arial, sans-serif" font-size="19.7" letter-spacing="0.211" fill="#1a1a1a">1286</text>
<text x="621.56" y="2287.50" font-family="Liberation Sans, Arial, sans-serif" font-size="16.78" letter-spacing="0.265" fill="#1a1a1a">42</text>
<text x="660.90" y="2303.00" font-family="Liberation Sans, Arial, sans-serif" font-size="19.92" letter-spacing="0.239" fill="#1a1a1a">376</text>
<text x="583.71" y="2323.40" font-family="Liberation Sans, Arial, sans-serif" font-size="19.79" letter-spacing="0.241" fill="#1a1a1a">302</text>
<text x="591.50" y="2382.80" font-family="Liberation Sans, Arial, sans-serif" font-size="19.99" font-weight="bold" letter-spacing="0.218" fill="#1a1a1a">PNLM-pcABE</text>
<text x="627.09" y="2422.50" font-family="Liberation Sans, Arial, sans-serif" font-size="20.12" letter-spacing="0.215" fill="#1a1a1a">2562</text>
<text x="544.04" y="2492.00" font-family="Liberation Sans, Arial, sans-serif" font-size="30.14" font-weight="bold" letter-spacing="0.324" fill="#000">NGG</text>
<defs><clipPath id="v2a"><circle cx="1144.9" cy="2249.6" r="121.3"/></clipPath><clipPath id="v2b"><circle cx="1295.6" cy="2249.7" r="78"/></clipPath></defs>
<circle cx="1144.9" cy="2249.6" r="121.3" fill="#cfe5fb"/>
<circle cx="1295.6" cy="2249.7" r="78" fill="#fcc0df"/>
<circle cx="1255" cy="2356.5" r="101" fill="#c3dfad"/>
<circle cx="1295.6" cy="2249.7" r="78" fill="#d3a8f3" clip-path="url(#v2a)"/>
<circle cx="1255" cy="2356.5" r="101" fill="#ffe9a6" clip-path="url(#v2a)"/>
<circle cx="1255" cy="2356.5" r="101" fill="#fdd85f" clip-path="url(#v2b)"/>
<g clip-path="url(#v2a)"><circle cx="1255" cy="2356.5" r="101" fill="#8099d3" clip-path="url(#v2b)"/></g>
<circle cx="1144.9" cy="2249.6" r="121.3" fill="none" stroke="#6c9fd6" stroke-width="1.3"/>
<circle cx="1295.6" cy="2249.7" r="78" fill="none" stroke="#f28cba" stroke-width="1.3"/>
<circle cx="1255" cy="2356.5" r="101" fill="none" stroke="#73ab4c" stroke-width="1.3"/>
<text x="1085.79" y="2204.70" font-family="Liberation Sans, Arial, sans-serif" font-size="18.26" font-weight="bold" letter-spacing="0.216" fill="#1a1a1a">ABE8e</text>
<text x="1090.48" y="2248.40" font-family="Liberation Sans, Arial, sans-serif" font-size="18.9" letter-spacing="0.187" fill="#1a1a1a">11023</text>
<text x="1226.64" y="2244.70" font-family="Liberation Sans, Arial, sans-serif" font-size="19.08" letter-spacing="0.227" fill="#1a1a1a">948</text>
<text x="1291.14" y="2215.60" font-family="Liberation Sans, Arial, sans-serif" font-size="18.3" font-weight="bold" letter-spacing="0.243" fill="#1a1a1a">ABE9</text>
<text x="1294.96" y="2244.40" font-family="Liberation Sans, Arial, sans-serif" font-size="18.37" letter-spacing="0.199" fill="#1a1a1a">3087</text>
<text x="1229.34" y="2290.00" font-family="Liberation Sans, Arial, sans-serif" font-size="18.77" letter-spacing="0.228" fill="#1a1a1a">386</text>
<text x="1277.63" y="2311.00" font-family="Liberation Sans, Arial, sans-serif" font-size="18.3" letter-spacing="0.193" fill="#1a1a1a">1612</text>
<text x="1172.80" y="2335.00" font-family="Liberation Sans, Arial, sans-serif" font-size="18.96" letter-spacing="0.197" fill="#1a1a1a">2115</text>
<text x="1203.79" y="2384.40" font-family="Liberation Sans, Arial, sans-serif" font-size="18.58" font-weight="bold" letter-spacing="0.201" fill="#1a1a1a">PNLM-pcABE</text>
<text x="1251.59" y="2421.90" font-family="Liberation Sans, Arial, sans-serif" font-size="18.22" letter-spacing="0.197" fill="#1a1a1a">6241</text>
<text x="1175.51" y="2492.00" font-family="Liberation Sans, Arial, sans-serif" font-size="30.6" font-weight="bold" letter-spacing="0.425" fill="#000">NG</text>
</svg>
</body></html>
